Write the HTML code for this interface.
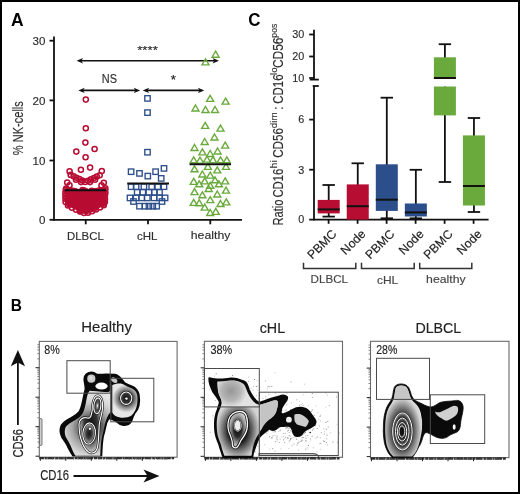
<!DOCTYPE html>
<html><head><meta charset="utf-8"><style>
html,body{margin:0;padding:0;background:#fff;}
body{width:520px;height:494px;overflow:hidden;}
svg{display:block;will-change:transform;}
text{font-family:"Liberation Sans",sans-serif;}
</style></head><body>
<svg width="520" height="494" viewBox="0 0 520 494" font-family="Liberation Sans, sans-serif">
<defs><radialGradient id="z1" gradientUnits="objectBoundingBox" cx="0.5" cy="0.5" r="0.5"><stop offset="0" stop-color="#151515"/><stop offset="0.45" stop-color="#3a3a3a"/><stop offset="0.8" stop-color="#8a8a8a"/><stop offset="1" stop-color="#d5d5d5"/></radialGradient><radialGradient id="z2" gradientUnits="objectBoundingBox" cx="0.5" cy="0.5" r="0.5"><stop offset="0" stop-color="#000"/><stop offset="0.6" stop-color="#1e1e1e"/><stop offset="0.85" stop-color="#5e5e5e"/><stop offset="1" stop-color="#c2c2c2"/></radialGradient><radialGradient id="z2h" gradientUnits="objectBoundingBox" cx="0.5" cy="0.5" r="0.5"><stop offset="0" stop-color="#111"/><stop offset="0.55" stop-color="#333"/><stop offset="0.8" stop-color="#8a8a8a"/><stop offset="1" stop-color="#d2d2d2"/></radialGradient><radialGradient id="z2c" gradientUnits="objectBoundingBox" cx="0.5" cy="0.5" r="0.5"><stop offset="0" stop-color="#111"/><stop offset="0.4" stop-color="#2a2a2a"/><stop offset="0.7" stop-color="#8a8a8a"/><stop offset="1" stop-color="#d8d8d8"/></radialGradient><radialGradient id="z4" gradientUnits="objectBoundingBox" cx="0.5" cy="0.5" r="0.5"><stop offset="0" stop-color="#1a1a1a"/><stop offset="0.6" stop-color="#2a2a2a"/><stop offset="0.85" stop-color="#555"/><stop offset="1" stop-color="#9a9a9a"/></radialGradient><radialGradient id="z2d" gradientUnits="objectBoundingBox" cx="0.5" cy="0.5" r="0.5"><stop offset="0" stop-color="#000"/><stop offset="0.62" stop-color="#141414"/><stop offset="0.86" stop-color="#4a4a4a"/><stop offset="1" stop-color="#b0b0b0"/></radialGradient><radialGradient id="z3" gradientUnits="objectBoundingBox" cx="0.5" cy="0.5" r="0.5"><stop offset="0" stop-color="#ffffff"/><stop offset="0.25" stop-color="#888"/><stop offset="0.6" stop-color="#3a3a3a"/><stop offset="1" stop-color="#b0b0b0"/></radialGradient><radialGradient id="hb" gradientUnits="userSpaceOnUse" cx="91" cy="428" r="34"><stop offset="0" stop-color="#2a2a2a"/><stop offset="0.3" stop-color="#555"/><stop offset="0.55" stop-color="#a5a5a5"/><stop offset="0.8" stop-color="#d5d5d5"/><stop offset="1" stop-color="#e6e6e6"/></radialGradient><radialGradient id="hr" gradientUnits="userSpaceOnUse" cx="126.4" cy="398.5" r="14"><stop offset="0" stop-color="#111"/><stop offset="0.42" stop-color="#3a3a3a"/><stop offset="0.72" stop-color="#9a9a9a"/><stop offset="1" stop-color="#e6e6e6"/></radialGradient><radialGradient id="cb" gradientUnits="userSpaceOnUse" cx="238" cy="430" r="22" gradientTransform="translate(238 430) scale(1 1.35) translate(-238 -430)"><stop offset="0" stop-color="#000"/><stop offset="0.45" stop-color="#222"/><stop offset="0.65" stop-color="#666"/><stop offset="0.85" stop-color="#a8a8a8"/><stop offset="1" stop-color="#d5d5d5"/></radialGradient><radialGradient id="cu" gradientUnits="userSpaceOnUse" cx="231" cy="391" r="16"><stop offset="0" stop-color="#979797"/><stop offset="0.6" stop-color="#b5b5b5"/><stop offset="1" stop-color="#e2e2e2"/></radialGradient><radialGradient id="db" gradientUnits="userSpaceOnUse" cx="402.3" cy="431" r="21" gradientTransform="translate(402.3 431) scale(1 1.75) translate(-402.3 -431)"><stop offset="0" stop-color="#111"/><stop offset="0.45" stop-color="#333"/><stop offset="0.68" stop-color="#8a8a8a"/><stop offset="0.88" stop-color="#d2d2d2"/><stop offset="1" stop-color="#e2e2e2"/></radialGradient></defs>
<rect x="0" y="0" width="520" height="494" fill="#fff"/>
<text x="11" y="25.7" font-size="17.5" fill="#000" stroke="#000" stroke-width="0.0" text-anchor="start" textLength="12.6" lengthAdjust="spacingAndGlyphs" font-weight="bold" >A</text>
<g stroke="#111" stroke-width="1.8" fill="none">
<line x1="54" y1="36.5" x2="54" y2="220.6"/>
<line x1="53.1" y1="219.8" x2="242" y2="219.8"/>
<line x1="49.5" y1="40.7" x2="54" y2="40.7"/>
<line x1="49.5" y1="100.4" x2="54" y2="100.4"/>
<line x1="49.5" y1="160.5" x2="54" y2="160.5"/>
<line x1="49.5" y1="219.8" x2="54" y2="219.8"/>
<line x1="85.75" y1="219.8" x2="85.75" y2="224.3"/>
<line x1="148" y1="219.8" x2="148" y2="224.3"/>
<line x1="210.3" y1="219.8" x2="210.3" y2="224.3"/>
</g>
<text x="45.5" y="44.800000000000004" font-size="11.6" fill="#2e2e2e" stroke="#2e2e2e" stroke-width="0.15" text-anchor="end" >30</text>
<text x="45.5" y="104.5" font-size="11.6" fill="#2e2e2e" stroke="#2e2e2e" stroke-width="0.15" text-anchor="end" >20</text>
<text x="45.5" y="164.6" font-size="11.6" fill="#2e2e2e" stroke="#2e2e2e" stroke-width="0.15" text-anchor="end" >10</text>
<text x="45.5" y="223.9" font-size="11.6" fill="#2e2e2e" stroke="#2e2e2e" stroke-width="0.15" text-anchor="end" >0</text>
<text x="85.4" y="239.5" font-size="11.5" fill="#2e2e2e" stroke="#2e2e2e" stroke-width="0.15" text-anchor="middle" textLength="36.7" lengthAdjust="spacingAndGlyphs" >DLBCL</text>
<text x="147.2" y="239.5" font-size="11.5" fill="#2e2e2e" stroke="#2e2e2e" stroke-width="0.15" text-anchor="middle" textLength="20.5" lengthAdjust="spacingAndGlyphs" >cHL</text>
<text x="210.6" y="239.3" font-size="11.5" fill="#2e2e2e" stroke="#2e2e2e" stroke-width="0.15" text-anchor="middle" textLength="39.6" lengthAdjust="spacingAndGlyphs" >healthy</text>
<text transform="translate(23.3,0) rotate(-90)" x="-155.2" y="0" font-size="14.8" fill="#2e2e2e" stroke="#2e2e2e" stroke-width="0.15" textLength="54" lengthAdjust="spacingAndGlyphs" font-family="Liberation Sans, sans-serif">% NK-cells</text>
<line x1="79.6" y1="60.8" x2="216" y2="60.8" stroke="#111" stroke-width="1.6"/>
<path d="M76.6,60.8 L83.0,58.099999999999994 L81.39999999999999,60.8 L83.0,63.5 Z" fill="#111"/>
<path d="M219,60.8 L212.6,58.099999999999994 L214.2,60.8 L212.6,63.5 Z" fill="#111"/>
<line x1="81.3" y1="90.4" x2="137.2" y2="90.4" stroke="#111" stroke-width="1.6"/>
<path d="M78.3,90.4 L84.7,87.7 L83.1,90.4 L84.7,93.10000000000001 Z" fill="#111"/>
<path d="M140.2,90.4 L133.79999999999998,87.7 L135.39999999999998,90.4 L133.79999999999998,93.10000000000001 Z" fill="#111"/>
<line x1="145.7" y1="90.4" x2="201.3" y2="90.4" stroke="#111" stroke-width="1.6"/>
<path d="M142.7,90.4 L149.1,87.7 L147.5,90.4 L149.1,93.10000000000001 Z" fill="#111"/>
<path d="M204.3,90.4 L197.9,87.7 L199.5,90.4 L197.9,93.10000000000001 Z" fill="#111"/>
<text x="137.2" y="53.8" font-size="11" fill="#222" stroke="#222" stroke-width="0.15" text-anchor="start" textLength="20.6" lengthAdjust="spacingAndGlyphs" >****</text>
<text x="101.8" y="82.9" font-size="12" fill="#2e2e2e" stroke="#2e2e2e" stroke-width="0.15" text-anchor="start" textLength="15.2" lengthAdjust="spacingAndGlyphs" >NS</text>
<text x="170.8" y="83.6" font-size="12" fill="#222" stroke="#222" stroke-width="0.15" text-anchor="start" textLength="5.2" lengthAdjust="spacingAndGlyphs" >*</text>
<path d="M64.8,188.5 C68,187 72,187 76,188.2 C80,189.2 83,190 85.7,190 C89,190 92,189.2 95.5,188.2 C99,187 103,186.6 106.2,188 L106.2,203 C104.5,205.5 101,207.3 97,209.3 C94,210.8 91.5,212.3 89,213.6 C87.3,214.6 84.5,214.6 82.8,213.6 C80,212 77.5,210.6 74.5,209.2 C71,207.6 67,205.6 65,203 Z" fill="#b80d33"/>
<g fill="none" stroke="#b80d33" stroke-width="1.5">
<circle cx="85.8" cy="99.6" r="2.55"/>
<circle cx="85.8" cy="128.3" r="2.55"/>
<circle cx="85.4" cy="142.6" r="2.55"/>
<circle cx="76.3" cy="151.6" r="2.55"/>
<circle cx="94.6" cy="149.0" r="2.55"/>
<circle cx="85.6" cy="157.3" r="2.55"/>
<circle cx="80.9" cy="169.8" r="2.55"/>
<circle cx="90.1" cy="167.6" r="2.55"/>
<circle cx="69.6" cy="171.4" r="2.55"/>
<circle cx="101.8" cy="171.1" r="2.55"/>
<circle cx="70.7" cy="174.9" r="2.55"/>
<circle cx="73.6" cy="176.3" r="2.55"/>
<circle cx="76.5" cy="177.7" r="2.55"/>
<circle cx="79.4" cy="179.1" r="2.55"/>
<circle cx="82.3" cy="180.5" r="2.55"/>
<circle cx="85.2" cy="181.9" r="2.55"/>
<circle cx="88.1" cy="180.8" r="2.55"/>
<circle cx="91.0" cy="179.4" r="2.55"/>
<circle cx="93.9" cy="178.0" r="2.55"/>
<circle cx="96.8" cy="176.6" r="2.55"/>
<circle cx="99.7" cy="175.2" r="2.55"/>
<circle cx="76.0" cy="179.8" r="2.55"/>
<circle cx="81.0" cy="182.1" r="2.55"/>
<circle cx="90.0" cy="182.1" r="2.55"/>
<circle cx="95.0" cy="179.8" r="2.55"/>
<circle cx="67.2" cy="182.6" r="2.55"/>
<circle cx="69.5" cy="185.2" r="2.55"/>
<circle cx="103.8" cy="182.8" r="2.55"/>
<circle cx="101.5" cy="185.4" r="2.55"/>
<circle cx="66.2" cy="188.5" r="2.55"/>
<circle cx="105.3" cy="188.3" r="2.55"/>
<circle cx="72.6" cy="196.8" r="2.55"/>
<circle cx="69.7" cy="203.7" r="2.55"/>
<circle cx="80.5" cy="201.3" r="2.55"/>
<circle cx="85.8" cy="191.2" r="2.55"/>
<circle cx="83.0" cy="190.8" r="2.55"/>
<circle cx="70.4" cy="191.5" r="2.55"/>
<circle cx="97.6" cy="198.9" r="2.55"/>
<circle cx="75.3" cy="192.6" r="2.55"/>
<circle cx="102.1" cy="203.2" r="2.55"/>
<circle cx="81.7" cy="202.1" r="2.55"/>
<circle cx="79.9" cy="210.5" r="2.55"/>
<circle cx="80.9" cy="208.0" r="2.55"/>
<circle cx="71.4" cy="193.0" r="2.55"/>
<circle cx="97.2" cy="196.5" r="2.55"/>
<circle cx="88.5" cy="193.8" r="2.55"/>
<circle cx="80.8" cy="203.4" r="2.55"/>
<circle cx="69.3" cy="201.5" r="2.55"/>
<circle cx="74.6" cy="191.3" r="2.55"/>
<circle cx="82.9" cy="204.3" r="2.55"/>
<circle cx="88.7" cy="196.6" r="2.55"/>
<circle cx="78.1" cy="199.5" r="2.55"/>
<circle cx="90.8" cy="206.7" r="2.55"/>
<circle cx="88.3" cy="195.1" r="2.55"/>
<circle cx="99.4" cy="201.0" r="2.55"/>
<circle cx="78.7" cy="205.3" r="2.55"/>
<circle cx="80.9" cy="210.6" r="2.55"/>
<circle cx="95.0" cy="198.8" r="2.55"/>
<circle cx="85.1" cy="193.2" r="2.55"/>
<circle cx="91.7" cy="190.8" r="2.55"/>
<circle cx="87.6" cy="206.1" r="2.55"/>
<circle cx="81.7" cy="208.4" r="2.55"/>
<circle cx="88.8" cy="204.6" r="2.55"/>
<circle cx="83.9" cy="202.2" r="2.55"/>
<circle cx="95.8" cy="207.6" r="2.55"/>
<circle cx="91.6" cy="200.0" r="2.55"/>
<circle cx="93.0" cy="191.3" r="2.55"/>
<circle cx="103.7" cy="203.6" r="2.55"/>
<circle cx="80.2" cy="207.3" r="2.55"/>
<circle cx="91.7" cy="198.1" r="2.55"/>
<circle cx="84.1" cy="190.5" r="2.55"/>
<circle cx="71.3" cy="193.5" r="2.55"/>
<circle cx="95.4" cy="191.2" r="2.55"/>
<circle cx="76.2" cy="192.7" r="2.55"/>
<circle cx="99.2" cy="198.2" r="2.55"/>
<circle cx="83.6" cy="191.7" r="2.55"/>
<circle cx="99.7" cy="201.5" r="2.55"/>
<circle cx="94.5" cy="207.2" r="2.55"/>
<circle cx="82.4" cy="195.8" r="2.55"/>
<circle cx="99.7" cy="197.5" r="2.55"/>
<circle cx="80.7" cy="210.1" r="2.55"/>
<circle cx="75.6" cy="193.7" r="2.55"/>
<circle cx="84.9" cy="194.9" r="2.55"/>
<circle cx="76.7" cy="202.4" r="2.55"/>
<circle cx="82.5" cy="190.1" r="2.55"/>
<circle cx="88.0" cy="197.8" r="2.55"/>
<circle cx="88.2" cy="210.0" r="2.55"/>
<circle cx="89.9" cy="200.8" r="2.55"/>
<circle cx="69.3" cy="204.2" r="2.55"/>
<circle cx="90.7" cy="208.9" r="2.55"/>
<circle cx="91.6" cy="208.4" r="2.55"/>
<circle cx="65.7" cy="190.0" r="2.55"/>
<circle cx="105.2" cy="190.0" r="2.55"/>
<circle cx="65.4" cy="193.0" r="2.55"/>
<circle cx="105.4" cy="193.0" r="2.55"/>
<circle cx="65.4" cy="196.0" r="2.55"/>
<circle cx="104.9" cy="196.0" r="2.55"/>
<circle cx="65.5" cy="199.0" r="2.55"/>
<circle cx="105.0" cy="199.0" r="2.55"/>
<circle cx="65.6" cy="202.0" r="2.55"/>
<circle cx="104.9" cy="202.0" r="2.55"/>
<circle cx="68.0" cy="205.5" r="2.55"/>
<circle cx="72.0" cy="207.8" r="2.55"/>
<circle cx="76.0" cy="209.8" r="2.55"/>
<circle cx="80.0" cy="211.6" r="2.55"/>
<circle cx="84.0" cy="213.0" r="2.55"/>
<circle cx="88.0" cy="212.8" r="2.55"/>
<circle cx="92.0" cy="211.2" r="2.55"/>
<circle cx="96.0" cy="209.5" r="2.55"/>
<circle cx="100.0" cy="207.5" r="2.55"/>
<circle cx="103.8" cy="205.3" r="2.55"/>
</g>
<line x1="64.5" y1="190.2" x2="106.3" y2="190.2" stroke="#111" stroke-width="2"/>
<g fill="none" stroke="#2c4f8c" stroke-width="1.35">
<rect x="144.8" y="95.7" width="5.4" height="5.4"/>
<rect x="144.8" y="109.9" width="5.4" height="5.4"/>
<rect x="144.8" y="149.5" width="5.4" height="5.4"/>
<rect x="128.4" y="169.0" width="5.4" height="5.4"/>
<rect x="136.8" y="170.7" width="5.4" height="5.4"/>
<rect x="145.1" y="173.4" width="5.4" height="5.4"/>
<rect x="152.9" y="169.0" width="5.4" height="5.4"/>
<rect x="161.3" y="165.7" width="5.4" height="5.4"/>
<rect x="158.5" y="175.7" width="5.4" height="5.4"/>
<rect x="128.4" y="184.0" width="5.4" height="5.4"/>
<rect x="133.4" y="184.0" width="5.4" height="5.4"/>
<rect x="141.2" y="184.0" width="5.4" height="5.4"/>
<rect x="149.0" y="184.0" width="5.4" height="5.4"/>
<rect x="155.1" y="184.0" width="5.4" height="5.4"/>
<rect x="161.3" y="184.0" width="5.4" height="5.4"/>
<rect x="134.5" y="189.6" width="5.4" height="5.4"/>
<rect x="140.1" y="189.6" width="5.4" height="5.4"/>
<rect x="146.2" y="189.6" width="5.4" height="5.4"/>
<rect x="151.8" y="189.6" width="5.4" height="5.4"/>
<rect x="156.8" y="189.6" width="5.4" height="5.4"/>
<rect x="127.3" y="195.2" width="5.4" height="5.4"/>
<rect x="133.4" y="195.2" width="5.4" height="5.4"/>
<rect x="139.0" y="195.2" width="5.4" height="5.4"/>
<rect x="144.6" y="195.2" width="5.4" height="5.4"/>
<rect x="151.3" y="195.2" width="5.4" height="5.4"/>
<rect x="156.8" y="195.2" width="5.4" height="5.4"/>
<rect x="162.4" y="195.2" width="5.4" height="5.4"/>
<rect x="130.8" y="198.8" width="5.4" height="5.4"/>
<rect x="159.3" y="198.8" width="5.4" height="5.4"/>
<rect x="136.8" y="203.5" width="5.4" height="5.4"/>
<rect x="142.3" y="203.5" width="5.4" height="5.4"/>
<rect x="146.2" y="203.5" width="5.4" height="5.4"/>
<rect x="150.1" y="203.5" width="5.4" height="5.4"/>
<rect x="154.0" y="203.5" width="5.4" height="5.4"/>
</g>
<line x1="127.2" y1="183.4" x2="169" y2="183.4" stroke="#111" stroke-width="2"/>
<g fill="none" stroke="#6aaa3c" stroke-width="1.4" stroke-linejoin="miter">
<path d="M215.6,51.2 L219.1,57.2 L212.1,57.2 Z"/>
<path d="M205.5,58.9 L209.0,64.9 L202.0,64.9 Z"/>
<path d="M210.1,95.4 L213.6,101.4 L206.6,101.4 Z"/>
<path d="M225.6,98.1 L229.1,104.1 L222.1,104.1 Z"/>
<path d="M195.5,105.0 L199.0,111.0 L192.0,111.0 Z"/>
<path d="M205.5,106.5 L209.0,112.5 L202.0,112.5 Z"/>
<path d="M215.0,106.5 L218.5,112.5 L211.5,112.5 Z"/>
<path d="M205.2,122.4 L208.7,128.4 L201.7,128.4 Z"/>
<path d="M220.5,125.1 L224.0,131.1 L217.0,131.1 Z"/>
<path d="M214.5,134.0 L218.0,140.0 L211.0,140.0 Z"/>
<path d="M204.7,138.5 L208.2,144.5 L201.2,144.5 Z"/>
<path d="M225.2,142.1 L228.7,148.1 L221.7,148.1 Z"/>
<path d="M194.5,144.5 L198.0,150.5 L191.0,150.5 Z"/>
<path d="M202.4,148.9 L205.9,154.9 L198.9,154.9 Z"/>
<path d="M210.2,150.5 L213.7,156.5 L206.7,156.5 Z"/>
<path d="M217.6,148.0 L221.1,154.0 L214.1,154.0 Z"/>
<path d="M193.7,156.8 L197.2,162.8 L190.2,162.8 Z"/>
<path d="M200.0,157.1 L203.5,163.1 L196.5,163.1 Z"/>
<path d="M207.0,156.1 L210.5,162.1 L203.5,162.1 Z"/>
<path d="M213.0,156.6 L216.5,162.6 L209.5,162.6 Z"/>
<path d="M220.5,156.8 L224.0,162.8 L217.0,162.8 Z"/>
<path d="M226.8,156.8 L230.3,162.8 L223.3,162.8 Z"/>
<path d="M194.5,165.8 L198.0,171.8 L191.0,171.8 Z"/>
<path d="M207.9,163.4 L211.4,169.4 L204.4,169.4 Z"/>
<path d="M217.3,166.9 L220.8,172.9 L213.8,172.9 Z"/>
<path d="M226.0,163.4 L229.5,169.4 L222.5,169.4 Z"/>
<path d="M202.4,171.0 L205.9,177.0 L198.9,177.0 Z"/>
<path d="M210.2,172.1 L213.7,178.1 L206.7,178.1 Z"/>
<path d="M193.7,178.4 L197.2,184.4 L190.2,184.4 Z"/>
<path d="M199.2,180.8 L202.7,186.8 L195.7,186.8 Z"/>
<path d="M204.7,177.9 L208.2,183.9 L201.2,183.9 Z"/>
<path d="M210.2,182.3 L213.7,188.3 L206.7,188.3 Z"/>
<path d="M215.0,176.8 L218.5,182.8 L211.5,182.8 Z"/>
<path d="M218.9,180.8 L222.4,186.8 L215.4,186.8 Z"/>
<path d="M225.2,177.9 L228.7,183.9 L221.7,183.9 Z"/>
<path d="M194.5,188.6 L198.0,194.6 L191.0,194.6 Z"/>
<path d="M202.4,191.8 L205.9,197.8 L198.9,197.8 Z"/>
<path d="M208.7,185.5 L212.2,191.5 L205.2,191.5 Z"/>
<path d="M217.3,191.0 L220.8,197.0 L213.8,197.0 Z"/>
<path d="M226.0,187.1 L229.5,193.1 L222.5,193.1 Z"/>
<path d="M193.7,199.4 L197.2,205.4 L190.2,205.4 Z"/>
<path d="M199.2,199.7 L202.7,205.7 L195.7,205.7 Z"/>
<path d="M204.7,204.1 L208.2,210.1 L201.2,210.1 Z"/>
<path d="M210.2,196.6 L213.7,202.6 L206.7,202.6 Z"/>
<path d="M220.5,200.5 L224.0,206.5 L217.0,206.5 Z"/>
<path d="M226.3,198.9 L229.8,204.9 L222.8,204.9 Z"/>
<path d="M210.2,209.5 L213.7,215.5 L206.7,215.5 Z"/>
<path d="M215.8,208.4 L219.3,214.4 L212.3,214.4 Z"/>
</g>
<line x1="189.6" y1="164.2" x2="231" y2="164.2" stroke="#111" stroke-width="2"/>
<text x="248.3" y="25.7" font-size="17.5" fill="#000" stroke="#000" stroke-width="0.0" text-anchor="start" textLength="12.2" lengthAdjust="spacingAndGlyphs" font-weight="bold" >C</text>
<g stroke="#111" stroke-width="1.8" fill="none">
<line x1="314" y1="29.7" x2="314" y2="79.6"/>
<line x1="309.8" y1="79.6" x2="318.8" y2="79.6"/>
<line x1="312.7" y1="86" x2="318.8" y2="86"/>
<line x1="314" y1="86" x2="314" y2="220.4"/>
<line x1="309.2" y1="34.5" x2="314" y2="34.5"/>
<line x1="309.2" y1="56.5" x2="314" y2="56.5"/>
<line x1="309.2" y1="78.0" x2="314" y2="78.0"/>
<line x1="309.2" y1="119.6" x2="314" y2="119.6"/>
<line x1="309.2" y1="169.7" x2="314" y2="169.7"/>
<line x1="309.2" y1="219.6" x2="488.6" y2="219.6"/>
<line x1="328.6" y1="219.6" x2="328.6" y2="223.8"/>
<line x1="357.6" y1="219.6" x2="357.6" y2="223.8"/>
<line x1="386.6" y1="219.6" x2="386.6" y2="223.8"/>
<line x1="415.6" y1="219.6" x2="415.6" y2="223.8"/>
<line x1="444.6" y1="219.6" x2="444.6" y2="223.8"/>
<line x1="473.6" y1="219.6" x2="473.6" y2="223.8"/>
</g>
<text x="304.3" y="38.3" font-size="10.8" fill="#2e2e2e" stroke="#2e2e2e" stroke-width="0.15" text-anchor="end" >30</text>
<text x="304.3" y="60.3" font-size="10.8" fill="#2e2e2e" stroke="#2e2e2e" stroke-width="0.15" text-anchor="end" >20</text>
<text x="304.3" y="81.8" font-size="10.8" fill="#2e2e2e" stroke="#2e2e2e" stroke-width="0.15" text-anchor="end" >10</text>
<text x="304.3" y="123.39999999999999" font-size="10.8" fill="#2e2e2e" stroke="#2e2e2e" stroke-width="0.15" text-anchor="end" >6</text>
<text x="304.3" y="173.5" font-size="10.8" fill="#2e2e2e" stroke="#2e2e2e" stroke-width="0.15" text-anchor="end" >3</text>
<text x="304.3" y="223.4" font-size="10.8" fill="#2e2e2e" stroke="#2e2e2e" stroke-width="0.15" text-anchor="end" >0</text>
<g stroke="#111" stroke-width="1.8">
<line x1="328.7" y1="185" x2="328.7" y2="216.6"/>
<line x1="322.5" y1="185" x2="334.9" y2="185"/>
<line x1="322.5" y1="216.6" x2="334.9" y2="216.6"/>
</g>
<rect x="317.7" y="199.9" width="22" height="13.5" fill="#b80d33"/>
<line x1="317.7" y1="209.4" x2="339.7" y2="209.4" stroke="#111" stroke-width="2"/>
<g stroke="#111" stroke-width="1.8">
<line x1="357.75" y1="163.3" x2="357.75" y2="219.6"/>
<line x1="351.55" y1="163.3" x2="363.95" y2="163.3"/>
</g>
<rect x="346.75" y="184.4" width="22" height="35.19999999999999" fill="#b80d33"/>
<line x1="346.75" y1="206.2" x2="368.75" y2="206.2" stroke="#111" stroke-width="2"/>
<g stroke="#111" stroke-width="1.8">
<line x1="386.8" y1="97.7" x2="386.8" y2="218.3"/>
<line x1="380.6" y1="97.7" x2="393.0" y2="97.7"/>
<line x1="380.6" y1="218.3" x2="393.0" y2="218.3"/>
</g>
<rect x="375.8" y="164.3" width="22" height="46.599999999999994" fill="#2c4f8c"/>
<line x1="375.8" y1="199.7" x2="397.8" y2="199.7" stroke="#111" stroke-width="2"/>
<g stroke="#111" stroke-width="1.8">
<line x1="415.85" y1="169.8" x2="415.85" y2="218.3"/>
<line x1="409.65000000000003" y1="169.8" x2="422.05" y2="169.8"/>
<line x1="409.65000000000003" y1="218.3" x2="422.05" y2="218.3"/>
</g>
<rect x="404.85" y="203.5" width="22" height="13.0" fill="#2c4f8c"/>
<line x1="404.85" y1="212.4" x2="426.85" y2="212.4" stroke="#111" stroke-width="2"/>
<g stroke="#111" stroke-width="1.8">
<line x1="444.9" y1="44.2" x2="444.9" y2="182"/>
<line x1="438.7" y1="44.2" x2="451.09999999999997" y2="44.2"/>
<line x1="438.7" y1="182" x2="451.09999999999997" y2="182"/>
</g>
<rect x="433.9" y="57.3" width="22" height="21.7" fill="#6aaa3c"/>
<rect x="433.9" y="86.3" width="22" height="29.1" fill="#6aaa3c"/>
<rect x="433.9" y="79" width="22" height="7.3" fill="#fff"/>
<line x1="433.9" y1="78" x2="455.9" y2="78" stroke="#111" stroke-width="2"/>
<g stroke="#111" stroke-width="1.8">
<line x1="473.95" y1="118" x2="473.95" y2="212"/>
<line x1="467.75" y1="118" x2="480.15" y2="118"/>
<line x1="467.75" y1="212" x2="480.15" y2="212"/>
</g>
<rect x="462.95" y="135.4" width="22" height="70.1" fill="#6aaa3c"/>
<line x1="462.95" y1="186" x2="484.95" y2="186" stroke="#111" stroke-width="2"/>
<g transform="translate(282.8,0) rotate(-90)">
<text x="-225.6" y="0" font-size="14.8" fill="#2e2e2e" stroke="#2e2e2e" stroke-width="0.12" textLength="26.2" lengthAdjust="spacingAndGlyphs" font-family="Liberation Sans, sans-serif">Ratio</text>
<text x="-197.6" y="0" font-size="14.8" fill="#2e2e2e" stroke="#2e2e2e" stroke-width="0.12" textLength="29.0" lengthAdjust="spacingAndGlyphs" font-family="Liberation Sans, sans-serif">CD16</text>
<text x="-168.4" y="-5.6" font-size="9.6" fill="#2e2e2e" stroke="#2e2e2e" stroke-width="0.1" textLength="8.1" lengthAdjust="spacingAndGlyphs" font-family="Liberation Sans, sans-serif">hi</text>
<text x="-157.8" y="0" font-size="14.8" fill="#2e2e2e" stroke="#2e2e2e" stroke-width="0.12" textLength="29.7" lengthAdjust="spacingAndGlyphs" font-family="Liberation Sans, sans-serif">CD56</text>
<text x="-128.2" y="-5.6" font-size="9.6" fill="#2e2e2e" stroke="#2e2e2e" stroke-width="0.1" textLength="15.8" lengthAdjust="spacingAndGlyphs" font-family="Liberation Sans, sans-serif">dim</text>
<text x="-109.9" y="0" font-size="14.8" fill="#2e2e2e" stroke="#2e2e2e" stroke-width="0.12" textLength="3.7" lengthAdjust="spacingAndGlyphs" font-family="Liberation Sans, sans-serif">:</text>
<text x="-103.7" y="0" font-size="14.8" fill="#2e2e2e" stroke="#2e2e2e" stroke-width="0.12" textLength="29.3" lengthAdjust="spacingAndGlyphs" font-family="Liberation Sans, sans-serif">CD16</text>
<text x="-75.0" y="-5.6" font-size="9.6" fill="#2e2e2e" stroke="#2e2e2e" stroke-width="0.1" textLength="7.6" lengthAdjust="spacingAndGlyphs" font-family="Liberation Sans, sans-serif">lo</text>
<text x="-68.1" y="0" font-size="14.8" fill="#2e2e2e" stroke="#2e2e2e" stroke-width="0.12" textLength="30.5" lengthAdjust="spacingAndGlyphs" font-family="Liberation Sans, sans-serif">CD56</text>
<text x="-37.7" y="-5.6" font-size="9.6" fill="#2e2e2e" stroke="#2e2e2e" stroke-width="0.1" textLength="14.0" lengthAdjust="spacingAndGlyphs" font-family="Liberation Sans, sans-serif">pos</text>
</g>
<text transform="translate(337.3,234.6) rotate(-45)" font-size="12.3" fill="#222" stroke="#222" stroke-width="0.15" text-anchor="end" font-family="Liberation Sans, sans-serif">PBMC</text>
<text transform="translate(366.4,234.6) rotate(-45)" font-size="12.3" fill="#222" stroke="#222" stroke-width="0.15" text-anchor="end" font-family="Liberation Sans, sans-serif">Node</text>
<text transform="translate(395.4,234.6) rotate(-45)" font-size="12.3" fill="#222" stroke="#222" stroke-width="0.15" text-anchor="end" font-family="Liberation Sans, sans-serif">PBMC</text>
<text transform="translate(424.5,234.6) rotate(-45)" font-size="12.3" fill="#222" stroke="#222" stroke-width="0.15" text-anchor="end" font-family="Liberation Sans, sans-serif">Node</text>
<text transform="translate(453.5,234.6) rotate(-45)" font-size="12.3" fill="#222" stroke="#222" stroke-width="0.15" text-anchor="end" font-family="Liberation Sans, sans-serif">PBMC</text>
<text transform="translate(482.6,234.6) rotate(-45)" font-size="12.3" fill="#222" stroke="#222" stroke-width="0.15" text-anchor="end" font-family="Liberation Sans, sans-serif">Node</text>
<g stroke="#333" stroke-width="1.5" fill="none">
<path d="M303.5,262.8 L303.5,268.4 L355.8,268.4 L355.8,262.8"/>
<path d="M361.5,262.8 L361.5,268.4 L414.2,268.4 L414.2,262.8"/>
<path d="M419.7,262.8 L419.7,268.4 L471.8,268.4 L471.8,262.8"/>
</g>
<text x="329.3" y="283.3" font-size="11.2" fill="#444" stroke="#444" stroke-width="0.15" text-anchor="middle" textLength="37.4" lengthAdjust="spacingAndGlyphs" >DLBCL</text>
<text x="387.6" y="283.8" font-size="11.2" fill="#444" stroke="#444" stroke-width="0.15" text-anchor="middle" textLength="21.2" lengthAdjust="spacingAndGlyphs" >cHL</text>
<text x="445.9" y="283.4" font-size="11.2" fill="#444" stroke="#444" stroke-width="0.15" text-anchor="middle" textLength="39.6" lengthAdjust="spacingAndGlyphs" >healthy</text>
<text x="10.8" y="310.8" font-size="15.8" fill="#000" stroke="#000" stroke-width="0.0" text-anchor="start" textLength="11.2" lengthAdjust="spacingAndGlyphs" font-weight="bold" >B</text>
<text x="106.6" y="332.2" font-size="14.5" fill="#222" stroke="#222" stroke-width="0.15" text-anchor="middle" textLength="50.5" lengthAdjust="spacingAndGlyphs" >Healthy</text>
<text x="272.4" y="332.6" font-size="14.8" fill="#222" stroke="#222" stroke-width="0.15" text-anchor="middle" textLength="25.4" lengthAdjust="spacingAndGlyphs" >cHL</text>
<text x="438.3" y="332.7" font-size="14.8" fill="#222" stroke="#222" stroke-width="0.15" text-anchor="middle" textLength="45.8" lengthAdjust="spacingAndGlyphs" >DLBCL</text>
<line x1="17.9" y1="362" x2="17.9" y2="425" stroke="#111" stroke-width="1.8"/>
<path d="M17.9,350 L25,366.3 L17.9,362.5 L10.8,366.3 Z" fill="#111"/>
<text transform="translate(23.2,0) rotate(-90)" x="-457.6" y="0" font-size="14.8" fill="#222" stroke="#222" stroke-width="0.2" textLength="28.6" lengthAdjust="spacingAndGlyphs" font-family="Liberation Sans, sans-serif">CD56</text>
<line x1="73.5" y1="476" x2="148" y2="476" stroke="#111" stroke-width="1.8"/>
<path d="M159.5,476 L143.5,469.5 L147.5,476 L143.5,482.5 Z" fill="#111"/>
<text x="40.2" y="480.2" font-size="14.8" fill="#222" stroke="#222" stroke-width="0.15" text-anchor="start" textLength="28.8" lengthAdjust="spacingAndGlyphs" >CD16</text>
<rect x="39.3" y="341.4" width="137.8" height="115.80000000000001" fill="none" stroke="#6a6a6a" stroke-width="1.1"/>
<line x1="35.5" y1="456.2" x2="39.3" y2="456.2" stroke="#222" stroke-width="1"/>
<line x1="37.3" y1="447.3" x2="39.3" y2="447.3" stroke="#555" stroke-width="0.7"/>
<line x1="37.3" y1="442.1" x2="39.3" y2="442.1" stroke="#555" stroke-width="0.7"/>
<line x1="37.3" y1="438.4" x2="39.3" y2="438.4" stroke="#555" stroke-width="0.7"/>
<line x1="37.3" y1="435.6" x2="39.3" y2="435.6" stroke="#555" stroke-width="0.7"/>
<line x1="37.3" y1="433.2" x2="39.3" y2="433.2" stroke="#555" stroke-width="0.7"/>
<line x1="37.3" y1="431.3" x2="39.3" y2="431.3" stroke="#555" stroke-width="0.7"/>
<line x1="37.3" y1="429.6" x2="39.3" y2="429.6" stroke="#555" stroke-width="0.7"/>
<line x1="37.3" y1="428.0" x2="39.3" y2="428.0" stroke="#555" stroke-width="0.7"/>
<line x1="35.5" y1="426.7" x2="39.3" y2="426.7" stroke="#222" stroke-width="1"/>
<line x1="37.3" y1="417.8" x2="39.3" y2="417.8" stroke="#555" stroke-width="0.7"/>
<line x1="37.3" y1="412.6" x2="39.3" y2="412.6" stroke="#555" stroke-width="0.7"/>
<line x1="37.3" y1="408.9" x2="39.3" y2="408.9" stroke="#555" stroke-width="0.7"/>
<line x1="37.3" y1="406.1" x2="39.3" y2="406.1" stroke="#555" stroke-width="0.7"/>
<line x1="37.3" y1="403.7" x2="39.3" y2="403.7" stroke="#555" stroke-width="0.7"/>
<line x1="37.3" y1="401.8" x2="39.3" y2="401.8" stroke="#555" stroke-width="0.7"/>
<line x1="37.3" y1="400.1" x2="39.3" y2="400.1" stroke="#555" stroke-width="0.7"/>
<line x1="37.3" y1="398.5" x2="39.3" y2="398.5" stroke="#555" stroke-width="0.7"/>
<line x1="35.5" y1="397.2" x2="39.3" y2="397.2" stroke="#222" stroke-width="1"/>
<line x1="37.3" y1="388.3" x2="39.3" y2="388.3" stroke="#555" stroke-width="0.7"/>
<line x1="37.3" y1="383.1" x2="39.3" y2="383.1" stroke="#555" stroke-width="0.7"/>
<line x1="37.3" y1="379.4" x2="39.3" y2="379.4" stroke="#555" stroke-width="0.7"/>
<line x1="37.3" y1="376.6" x2="39.3" y2="376.6" stroke="#555" stroke-width="0.7"/>
<line x1="37.3" y1="374.2" x2="39.3" y2="374.2" stroke="#555" stroke-width="0.7"/>
<line x1="37.3" y1="372.3" x2="39.3" y2="372.3" stroke="#555" stroke-width="0.7"/>
<line x1="37.3" y1="370.6" x2="39.3" y2="370.6" stroke="#555" stroke-width="0.7"/>
<line x1="37.3" y1="369.0" x2="39.3" y2="369.0" stroke="#555" stroke-width="0.7"/>
<line x1="35.5" y1="367.7" x2="39.3" y2="367.7" stroke="#222" stroke-width="1"/>
<line x1="37.3" y1="358.8" x2="39.3" y2="358.8" stroke="#555" stroke-width="0.7"/>
<line x1="37.3" y1="353.6" x2="39.3" y2="353.6" stroke="#555" stroke-width="0.7"/>
<line x1="37.3" y1="349.9" x2="39.3" y2="349.9" stroke="#555" stroke-width="0.7"/>
<line x1="37.3" y1="347.1" x2="39.3" y2="347.1" stroke="#555" stroke-width="0.7"/>
<line x1="37.3" y1="344.7" x2="39.3" y2="344.7" stroke="#555" stroke-width="0.7"/>
<path d="M39.3,458.09999999999997 L174.1,458.09999999999997" stroke="#303030" stroke-width="2.4" stroke-dasharray="5 0.6 2 0.5 7 0.8 3 0.5"/>
<line x1="40.3" y1="457.2" x2="40.3" y2="460.8" stroke="#222" stroke-width="1"/>
<line x1="48.0" y1="457.2" x2="48.0" y2="459.59999999999997" stroke="#555" stroke-width="0.7"/>
<line x1="52.5" y1="457.2" x2="52.5" y2="459.59999999999997" stroke="#555" stroke-width="0.7"/>
<line x1="55.7" y1="457.2" x2="55.7" y2="459.59999999999997" stroke="#555" stroke-width="0.7"/>
<line x1="58.1" y1="457.2" x2="58.1" y2="459.59999999999997" stroke="#555" stroke-width="0.7"/>
<line x1="60.1" y1="457.2" x2="60.1" y2="459.59999999999997" stroke="#555" stroke-width="0.7"/>
<line x1="61.9" y1="457.2" x2="61.9" y2="459.59999999999997" stroke="#555" stroke-width="0.7"/>
<line x1="63.3" y1="457.2" x2="63.3" y2="459.59999999999997" stroke="#555" stroke-width="0.7"/>
<line x1="64.6" y1="457.2" x2="64.6" y2="459.59999999999997" stroke="#555" stroke-width="0.7"/>
<line x1="65.8" y1="457.2" x2="65.8" y2="460.8" stroke="#222" stroke-width="1"/>
<line x1="73.5" y1="457.2" x2="73.5" y2="459.59999999999997" stroke="#555" stroke-width="0.7"/>
<line x1="78.0" y1="457.2" x2="78.0" y2="459.59999999999997" stroke="#555" stroke-width="0.7"/>
<line x1="81.2" y1="457.2" x2="81.2" y2="459.59999999999997" stroke="#555" stroke-width="0.7"/>
<line x1="83.6" y1="457.2" x2="83.6" y2="459.59999999999997" stroke="#555" stroke-width="0.7"/>
<line x1="85.6" y1="457.2" x2="85.6" y2="459.59999999999997" stroke="#555" stroke-width="0.7"/>
<line x1="87.4" y1="457.2" x2="87.4" y2="459.59999999999997" stroke="#555" stroke-width="0.7"/>
<line x1="88.8" y1="457.2" x2="88.8" y2="459.59999999999997" stroke="#555" stroke-width="0.7"/>
<line x1="90.1" y1="457.2" x2="90.1" y2="459.59999999999997" stroke="#555" stroke-width="0.7"/>
<line x1="91.3" y1="457.2" x2="91.3" y2="460.8" stroke="#222" stroke-width="1"/>
<line x1="99.0" y1="457.2" x2="99.0" y2="459.59999999999997" stroke="#555" stroke-width="0.7"/>
<line x1="103.5" y1="457.2" x2="103.5" y2="459.59999999999997" stroke="#555" stroke-width="0.7"/>
<line x1="106.7" y1="457.2" x2="106.7" y2="459.59999999999997" stroke="#555" stroke-width="0.7"/>
<line x1="109.1" y1="457.2" x2="109.1" y2="459.59999999999997" stroke="#555" stroke-width="0.7"/>
<line x1="111.1" y1="457.2" x2="111.1" y2="459.59999999999997" stroke="#555" stroke-width="0.7"/>
<line x1="112.9" y1="457.2" x2="112.9" y2="459.59999999999997" stroke="#555" stroke-width="0.7"/>
<line x1="114.3" y1="457.2" x2="114.3" y2="459.59999999999997" stroke="#555" stroke-width="0.7"/>
<line x1="115.6" y1="457.2" x2="115.6" y2="459.59999999999997" stroke="#555" stroke-width="0.7"/>
<line x1="116.8" y1="457.2" x2="116.8" y2="460.8" stroke="#222" stroke-width="1"/>
<line x1="124.5" y1="457.2" x2="124.5" y2="459.59999999999997" stroke="#555" stroke-width="0.7"/>
<line x1="129.0" y1="457.2" x2="129.0" y2="459.59999999999997" stroke="#555" stroke-width="0.7"/>
<line x1="132.2" y1="457.2" x2="132.2" y2="459.59999999999997" stroke="#555" stroke-width="0.7"/>
<line x1="134.6" y1="457.2" x2="134.6" y2="459.59999999999997" stroke="#555" stroke-width="0.7"/>
<line x1="136.6" y1="457.2" x2="136.6" y2="459.59999999999997" stroke="#555" stroke-width="0.7"/>
<line x1="138.4" y1="457.2" x2="138.4" y2="459.59999999999997" stroke="#555" stroke-width="0.7"/>
<line x1="139.8" y1="457.2" x2="139.8" y2="459.59999999999997" stroke="#555" stroke-width="0.7"/>
<line x1="141.1" y1="457.2" x2="141.1" y2="459.59999999999997" stroke="#555" stroke-width="0.7"/>
<line x1="142.3" y1="457.2" x2="142.3" y2="460.8" stroke="#222" stroke-width="1"/>
<line x1="150.0" y1="457.2" x2="150.0" y2="459.59999999999997" stroke="#555" stroke-width="0.7"/>
<line x1="154.5" y1="457.2" x2="154.5" y2="459.59999999999997" stroke="#555" stroke-width="0.7"/>
<line x1="157.7" y1="457.2" x2="157.7" y2="459.59999999999997" stroke="#555" stroke-width="0.7"/>
<line x1="160.1" y1="457.2" x2="160.1" y2="459.59999999999997" stroke="#555" stroke-width="0.7"/>
<line x1="162.1" y1="457.2" x2="162.1" y2="459.59999999999997" stroke="#555" stroke-width="0.7"/>
<line x1="163.9" y1="457.2" x2="163.9" y2="459.59999999999997" stroke="#555" stroke-width="0.7"/>
<line x1="165.3" y1="457.2" x2="165.3" y2="459.59999999999997" stroke="#555" stroke-width="0.7"/>
<line x1="166.6" y1="457.2" x2="166.6" y2="459.59999999999997" stroke="#555" stroke-width="0.7"/>
<rect x="204.4" y="341.3" width="138.1" height="116.0" fill="none" stroke="#6a6a6a" stroke-width="1.1"/>
<line x1="200.6" y1="456.3" x2="204.4" y2="456.3" stroke="#222" stroke-width="1"/>
<line x1="202.4" y1="447.4" x2="204.4" y2="447.4" stroke="#555" stroke-width="0.7"/>
<line x1="202.4" y1="442.2" x2="204.4" y2="442.2" stroke="#555" stroke-width="0.7"/>
<line x1="202.4" y1="438.5" x2="204.4" y2="438.5" stroke="#555" stroke-width="0.7"/>
<line x1="202.4" y1="435.7" x2="204.4" y2="435.7" stroke="#555" stroke-width="0.7"/>
<line x1="202.4" y1="433.3" x2="204.4" y2="433.3" stroke="#555" stroke-width="0.7"/>
<line x1="202.4" y1="431.4" x2="204.4" y2="431.4" stroke="#555" stroke-width="0.7"/>
<line x1="202.4" y1="429.7" x2="204.4" y2="429.7" stroke="#555" stroke-width="0.7"/>
<line x1="202.4" y1="428.1" x2="204.4" y2="428.1" stroke="#555" stroke-width="0.7"/>
<line x1="200.6" y1="426.8" x2="204.4" y2="426.8" stroke="#222" stroke-width="1"/>
<line x1="202.4" y1="417.9" x2="204.4" y2="417.9" stroke="#555" stroke-width="0.7"/>
<line x1="202.4" y1="412.7" x2="204.4" y2="412.7" stroke="#555" stroke-width="0.7"/>
<line x1="202.4" y1="409.0" x2="204.4" y2="409.0" stroke="#555" stroke-width="0.7"/>
<line x1="202.4" y1="406.2" x2="204.4" y2="406.2" stroke="#555" stroke-width="0.7"/>
<line x1="202.4" y1="403.8" x2="204.4" y2="403.8" stroke="#555" stroke-width="0.7"/>
<line x1="202.4" y1="401.9" x2="204.4" y2="401.9" stroke="#555" stroke-width="0.7"/>
<line x1="202.4" y1="400.2" x2="204.4" y2="400.2" stroke="#555" stroke-width="0.7"/>
<line x1="202.4" y1="398.6" x2="204.4" y2="398.6" stroke="#555" stroke-width="0.7"/>
<line x1="200.6" y1="397.3" x2="204.4" y2="397.3" stroke="#222" stroke-width="1"/>
<line x1="202.4" y1="388.4" x2="204.4" y2="388.4" stroke="#555" stroke-width="0.7"/>
<line x1="202.4" y1="383.2" x2="204.4" y2="383.2" stroke="#555" stroke-width="0.7"/>
<line x1="202.4" y1="379.5" x2="204.4" y2="379.5" stroke="#555" stroke-width="0.7"/>
<line x1="202.4" y1="376.7" x2="204.4" y2="376.7" stroke="#555" stroke-width="0.7"/>
<line x1="202.4" y1="374.3" x2="204.4" y2="374.3" stroke="#555" stroke-width="0.7"/>
<line x1="202.4" y1="372.4" x2="204.4" y2="372.4" stroke="#555" stroke-width="0.7"/>
<line x1="202.4" y1="370.7" x2="204.4" y2="370.7" stroke="#555" stroke-width="0.7"/>
<line x1="202.4" y1="369.1" x2="204.4" y2="369.1" stroke="#555" stroke-width="0.7"/>
<line x1="200.6" y1="367.8" x2="204.4" y2="367.8" stroke="#222" stroke-width="1"/>
<line x1="202.4" y1="358.9" x2="204.4" y2="358.9" stroke="#555" stroke-width="0.7"/>
<line x1="202.4" y1="353.7" x2="204.4" y2="353.7" stroke="#555" stroke-width="0.7"/>
<line x1="202.4" y1="350.0" x2="204.4" y2="350.0" stroke="#555" stroke-width="0.7"/>
<line x1="202.4" y1="347.2" x2="204.4" y2="347.2" stroke="#555" stroke-width="0.7"/>
<line x1="202.4" y1="344.8" x2="204.4" y2="344.8" stroke="#555" stroke-width="0.7"/>
<path d="M204.4,458.2 L339.5,458.2" stroke="#303030" stroke-width="2.4" stroke-dasharray="5 0.6 2 0.5 7 0.8 3 0.5"/>
<line x1="205.4" y1="457.3" x2="205.4" y2="460.90000000000003" stroke="#222" stroke-width="1"/>
<line x1="213.1" y1="457.3" x2="213.1" y2="459.7" stroke="#555" stroke-width="0.7"/>
<line x1="217.6" y1="457.3" x2="217.6" y2="459.7" stroke="#555" stroke-width="0.7"/>
<line x1="220.8" y1="457.3" x2="220.8" y2="459.7" stroke="#555" stroke-width="0.7"/>
<line x1="223.2" y1="457.3" x2="223.2" y2="459.7" stroke="#555" stroke-width="0.7"/>
<line x1="225.2" y1="457.3" x2="225.2" y2="459.7" stroke="#555" stroke-width="0.7"/>
<line x1="227.0" y1="457.3" x2="227.0" y2="459.7" stroke="#555" stroke-width="0.7"/>
<line x1="228.4" y1="457.3" x2="228.4" y2="459.7" stroke="#555" stroke-width="0.7"/>
<line x1="229.7" y1="457.3" x2="229.7" y2="459.7" stroke="#555" stroke-width="0.7"/>
<line x1="230.9" y1="457.3" x2="230.9" y2="460.90000000000003" stroke="#222" stroke-width="1"/>
<line x1="238.6" y1="457.3" x2="238.6" y2="459.7" stroke="#555" stroke-width="0.7"/>
<line x1="243.1" y1="457.3" x2="243.1" y2="459.7" stroke="#555" stroke-width="0.7"/>
<line x1="246.3" y1="457.3" x2="246.3" y2="459.7" stroke="#555" stroke-width="0.7"/>
<line x1="248.7" y1="457.3" x2="248.7" y2="459.7" stroke="#555" stroke-width="0.7"/>
<line x1="250.7" y1="457.3" x2="250.7" y2="459.7" stroke="#555" stroke-width="0.7"/>
<line x1="252.5" y1="457.3" x2="252.5" y2="459.7" stroke="#555" stroke-width="0.7"/>
<line x1="253.9" y1="457.3" x2="253.9" y2="459.7" stroke="#555" stroke-width="0.7"/>
<line x1="255.2" y1="457.3" x2="255.2" y2="459.7" stroke="#555" stroke-width="0.7"/>
<line x1="256.4" y1="457.3" x2="256.4" y2="460.90000000000003" stroke="#222" stroke-width="1"/>
<line x1="264.1" y1="457.3" x2="264.1" y2="459.7" stroke="#555" stroke-width="0.7"/>
<line x1="268.6" y1="457.3" x2="268.6" y2="459.7" stroke="#555" stroke-width="0.7"/>
<line x1="271.8" y1="457.3" x2="271.8" y2="459.7" stroke="#555" stroke-width="0.7"/>
<line x1="274.2" y1="457.3" x2="274.2" y2="459.7" stroke="#555" stroke-width="0.7"/>
<line x1="276.2" y1="457.3" x2="276.2" y2="459.7" stroke="#555" stroke-width="0.7"/>
<line x1="278.0" y1="457.3" x2="278.0" y2="459.7" stroke="#555" stroke-width="0.7"/>
<line x1="279.4" y1="457.3" x2="279.4" y2="459.7" stroke="#555" stroke-width="0.7"/>
<line x1="280.7" y1="457.3" x2="280.7" y2="459.7" stroke="#555" stroke-width="0.7"/>
<line x1="281.9" y1="457.3" x2="281.9" y2="460.90000000000003" stroke="#222" stroke-width="1"/>
<line x1="289.6" y1="457.3" x2="289.6" y2="459.7" stroke="#555" stroke-width="0.7"/>
<line x1="294.1" y1="457.3" x2="294.1" y2="459.7" stroke="#555" stroke-width="0.7"/>
<line x1="297.3" y1="457.3" x2="297.3" y2="459.7" stroke="#555" stroke-width="0.7"/>
<line x1="299.7" y1="457.3" x2="299.7" y2="459.7" stroke="#555" stroke-width="0.7"/>
<line x1="301.7" y1="457.3" x2="301.7" y2="459.7" stroke="#555" stroke-width="0.7"/>
<line x1="303.5" y1="457.3" x2="303.5" y2="459.7" stroke="#555" stroke-width="0.7"/>
<line x1="304.9" y1="457.3" x2="304.9" y2="459.7" stroke="#555" stroke-width="0.7"/>
<line x1="306.2" y1="457.3" x2="306.2" y2="459.7" stroke="#555" stroke-width="0.7"/>
<line x1="307.4" y1="457.3" x2="307.4" y2="460.90000000000003" stroke="#222" stroke-width="1"/>
<line x1="315.1" y1="457.3" x2="315.1" y2="459.7" stroke="#555" stroke-width="0.7"/>
<line x1="319.6" y1="457.3" x2="319.6" y2="459.7" stroke="#555" stroke-width="0.7"/>
<line x1="322.8" y1="457.3" x2="322.8" y2="459.7" stroke="#555" stroke-width="0.7"/>
<line x1="325.2" y1="457.3" x2="325.2" y2="459.7" stroke="#555" stroke-width="0.7"/>
<line x1="327.2" y1="457.3" x2="327.2" y2="459.7" stroke="#555" stroke-width="0.7"/>
<line x1="329.0" y1="457.3" x2="329.0" y2="459.7" stroke="#555" stroke-width="0.7"/>
<line x1="330.4" y1="457.3" x2="330.4" y2="459.7" stroke="#555" stroke-width="0.7"/>
<line x1="331.7" y1="457.3" x2="331.7" y2="459.7" stroke="#555" stroke-width="0.7"/>
<rect x="370.5" y="341.3" width="138.5" height="116.30000000000001" fill="none" stroke="#6a6a6a" stroke-width="1.1"/>
<line x1="366.7" y1="456.6" x2="370.5" y2="456.6" stroke="#222" stroke-width="1"/>
<line x1="368.5" y1="447.7" x2="370.5" y2="447.7" stroke="#555" stroke-width="0.7"/>
<line x1="368.5" y1="442.5" x2="370.5" y2="442.5" stroke="#555" stroke-width="0.7"/>
<line x1="368.5" y1="438.8" x2="370.5" y2="438.8" stroke="#555" stroke-width="0.7"/>
<line x1="368.5" y1="436.0" x2="370.5" y2="436.0" stroke="#555" stroke-width="0.7"/>
<line x1="368.5" y1="433.6" x2="370.5" y2="433.6" stroke="#555" stroke-width="0.7"/>
<line x1="368.5" y1="431.7" x2="370.5" y2="431.7" stroke="#555" stroke-width="0.7"/>
<line x1="368.5" y1="430.0" x2="370.5" y2="430.0" stroke="#555" stroke-width="0.7"/>
<line x1="368.5" y1="428.4" x2="370.5" y2="428.4" stroke="#555" stroke-width="0.7"/>
<line x1="366.7" y1="427.1" x2="370.5" y2="427.1" stroke="#222" stroke-width="1"/>
<line x1="368.5" y1="418.2" x2="370.5" y2="418.2" stroke="#555" stroke-width="0.7"/>
<line x1="368.5" y1="413.0" x2="370.5" y2="413.0" stroke="#555" stroke-width="0.7"/>
<line x1="368.5" y1="409.3" x2="370.5" y2="409.3" stroke="#555" stroke-width="0.7"/>
<line x1="368.5" y1="406.5" x2="370.5" y2="406.5" stroke="#555" stroke-width="0.7"/>
<line x1="368.5" y1="404.1" x2="370.5" y2="404.1" stroke="#555" stroke-width="0.7"/>
<line x1="368.5" y1="402.2" x2="370.5" y2="402.2" stroke="#555" stroke-width="0.7"/>
<line x1="368.5" y1="400.5" x2="370.5" y2="400.5" stroke="#555" stroke-width="0.7"/>
<line x1="368.5" y1="398.9" x2="370.5" y2="398.9" stroke="#555" stroke-width="0.7"/>
<line x1="366.7" y1="397.6" x2="370.5" y2="397.6" stroke="#222" stroke-width="1"/>
<line x1="368.5" y1="388.7" x2="370.5" y2="388.7" stroke="#555" stroke-width="0.7"/>
<line x1="368.5" y1="383.5" x2="370.5" y2="383.5" stroke="#555" stroke-width="0.7"/>
<line x1="368.5" y1="379.8" x2="370.5" y2="379.8" stroke="#555" stroke-width="0.7"/>
<line x1="368.5" y1="377.0" x2="370.5" y2="377.0" stroke="#555" stroke-width="0.7"/>
<line x1="368.5" y1="374.6" x2="370.5" y2="374.6" stroke="#555" stroke-width="0.7"/>
<line x1="368.5" y1="372.7" x2="370.5" y2="372.7" stroke="#555" stroke-width="0.7"/>
<line x1="368.5" y1="371.0" x2="370.5" y2="371.0" stroke="#555" stroke-width="0.7"/>
<line x1="368.5" y1="369.4" x2="370.5" y2="369.4" stroke="#555" stroke-width="0.7"/>
<line x1="366.7" y1="368.1" x2="370.5" y2="368.1" stroke="#222" stroke-width="1"/>
<line x1="368.5" y1="359.2" x2="370.5" y2="359.2" stroke="#555" stroke-width="0.7"/>
<line x1="368.5" y1="354.0" x2="370.5" y2="354.0" stroke="#555" stroke-width="0.7"/>
<line x1="368.5" y1="350.3" x2="370.5" y2="350.3" stroke="#555" stroke-width="0.7"/>
<line x1="368.5" y1="347.5" x2="370.5" y2="347.5" stroke="#555" stroke-width="0.7"/>
<line x1="368.5" y1="345.1" x2="370.5" y2="345.1" stroke="#555" stroke-width="0.7"/>
<path d="M370.5,458.5 L506,458.5" stroke="#303030" stroke-width="2.4" stroke-dasharray="5 0.6 2 0.5 7 0.8 3 0.5"/>
<line x1="371.5" y1="457.6" x2="371.5" y2="461.20000000000005" stroke="#222" stroke-width="1"/>
<line x1="379.2" y1="457.6" x2="379.2" y2="460.0" stroke="#555" stroke-width="0.7"/>
<line x1="383.7" y1="457.6" x2="383.7" y2="460.0" stroke="#555" stroke-width="0.7"/>
<line x1="386.9" y1="457.6" x2="386.9" y2="460.0" stroke="#555" stroke-width="0.7"/>
<line x1="389.3" y1="457.6" x2="389.3" y2="460.0" stroke="#555" stroke-width="0.7"/>
<line x1="391.3" y1="457.6" x2="391.3" y2="460.0" stroke="#555" stroke-width="0.7"/>
<line x1="393.1" y1="457.6" x2="393.1" y2="460.0" stroke="#555" stroke-width="0.7"/>
<line x1="394.5" y1="457.6" x2="394.5" y2="460.0" stroke="#555" stroke-width="0.7"/>
<line x1="395.8" y1="457.6" x2="395.8" y2="460.0" stroke="#555" stroke-width="0.7"/>
<line x1="397.0" y1="457.6" x2="397.0" y2="461.20000000000005" stroke="#222" stroke-width="1"/>
<line x1="404.7" y1="457.6" x2="404.7" y2="460.0" stroke="#555" stroke-width="0.7"/>
<line x1="409.2" y1="457.6" x2="409.2" y2="460.0" stroke="#555" stroke-width="0.7"/>
<line x1="412.4" y1="457.6" x2="412.4" y2="460.0" stroke="#555" stroke-width="0.7"/>
<line x1="414.8" y1="457.6" x2="414.8" y2="460.0" stroke="#555" stroke-width="0.7"/>
<line x1="416.8" y1="457.6" x2="416.8" y2="460.0" stroke="#555" stroke-width="0.7"/>
<line x1="418.6" y1="457.6" x2="418.6" y2="460.0" stroke="#555" stroke-width="0.7"/>
<line x1="420.0" y1="457.6" x2="420.0" y2="460.0" stroke="#555" stroke-width="0.7"/>
<line x1="421.3" y1="457.6" x2="421.3" y2="460.0" stroke="#555" stroke-width="0.7"/>
<line x1="422.5" y1="457.6" x2="422.5" y2="461.20000000000005" stroke="#222" stroke-width="1"/>
<line x1="430.2" y1="457.6" x2="430.2" y2="460.0" stroke="#555" stroke-width="0.7"/>
<line x1="434.7" y1="457.6" x2="434.7" y2="460.0" stroke="#555" stroke-width="0.7"/>
<line x1="437.9" y1="457.6" x2="437.9" y2="460.0" stroke="#555" stroke-width="0.7"/>
<line x1="440.3" y1="457.6" x2="440.3" y2="460.0" stroke="#555" stroke-width="0.7"/>
<line x1="442.3" y1="457.6" x2="442.3" y2="460.0" stroke="#555" stroke-width="0.7"/>
<line x1="444.1" y1="457.6" x2="444.1" y2="460.0" stroke="#555" stroke-width="0.7"/>
<line x1="445.5" y1="457.6" x2="445.5" y2="460.0" stroke="#555" stroke-width="0.7"/>
<line x1="446.8" y1="457.6" x2="446.8" y2="460.0" stroke="#555" stroke-width="0.7"/>
<line x1="448.0" y1="457.6" x2="448.0" y2="461.20000000000005" stroke="#222" stroke-width="1"/>
<line x1="455.7" y1="457.6" x2="455.7" y2="460.0" stroke="#555" stroke-width="0.7"/>
<line x1="460.2" y1="457.6" x2="460.2" y2="460.0" stroke="#555" stroke-width="0.7"/>
<line x1="463.4" y1="457.6" x2="463.4" y2="460.0" stroke="#555" stroke-width="0.7"/>
<line x1="465.8" y1="457.6" x2="465.8" y2="460.0" stroke="#555" stroke-width="0.7"/>
<line x1="467.8" y1="457.6" x2="467.8" y2="460.0" stroke="#555" stroke-width="0.7"/>
<line x1="469.6" y1="457.6" x2="469.6" y2="460.0" stroke="#555" stroke-width="0.7"/>
<line x1="471.0" y1="457.6" x2="471.0" y2="460.0" stroke="#555" stroke-width="0.7"/>
<line x1="472.3" y1="457.6" x2="472.3" y2="460.0" stroke="#555" stroke-width="0.7"/>
<line x1="473.5" y1="457.6" x2="473.5" y2="461.20000000000005" stroke="#222" stroke-width="1"/>
<line x1="481.2" y1="457.6" x2="481.2" y2="460.0" stroke="#555" stroke-width="0.7"/>
<line x1="485.7" y1="457.6" x2="485.7" y2="460.0" stroke="#555" stroke-width="0.7"/>
<line x1="488.9" y1="457.6" x2="488.9" y2="460.0" stroke="#555" stroke-width="0.7"/>
<line x1="491.3" y1="457.6" x2="491.3" y2="460.0" stroke="#555" stroke-width="0.7"/>
<line x1="493.3" y1="457.6" x2="493.3" y2="460.0" stroke="#555" stroke-width="0.7"/>
<line x1="495.1" y1="457.6" x2="495.1" y2="460.0" stroke="#555" stroke-width="0.7"/>
<line x1="496.5" y1="457.6" x2="496.5" y2="460.0" stroke="#555" stroke-width="0.7"/>
<line x1="497.8" y1="457.6" x2="497.8" y2="460.0" stroke="#555" stroke-width="0.7"/>
<rect x="39.6" y="418.5" width="2.4" height="27" rx="1.2" fill="#d8d8d8" stroke="#555" stroke-width="0.8"/>
<text x="44.3" y="353.6" font-size="12" fill="#222" stroke="#222" stroke-width="0.15" text-anchor="start" textLength="15.5" lengthAdjust="spacingAndGlyphs" >8%</text>
<text x="210.4" y="353.8" font-size="12" fill="#222" stroke="#222" stroke-width="0.15" text-anchor="start" textLength="21.8" lengthAdjust="spacingAndGlyphs" >38%</text>
<text x="376.2" y="353.9" font-size="12" fill="#222" stroke="#222" stroke-width="0.15" text-anchor="start" textLength="21.1" lengthAdjust="spacingAndGlyphs" >28%</text>
<path d="M84.2,379 C84.2,375 87.5,372.2 91.7,372.2 C94,372.2 95.5,373.5 96.5,374.3 C99,374.9 102,374.4 106,374.3 L114.9,374.6 C117,375 119.5,376.5 121.8,379.4 C123,381 124,382.5 125.5,383.5 C128,385 131,386 133.5,387 C136,388.5 138,391.5 138.8,394.5 C139.5,398 139.5,402 138.8,405.5 C138,409 136,412 134.5,413.5 C133,416 132,419.5 131.5,421 C130,423.5 127.5,425.3 123.4,425.2 C120,424.5 118,423 116.2,421.3 C114,420 112.5,419.5 111.3,419 C110,418.5 109,418.5 108.4,419 C107,421 106,424 105.5,427 C104.5,431 104,434 103.2,436 C102.3,440 101.8,448 101.5,455.8 L73,455.8 C71,453 69.5,450 68.1,447.4 C67,444 64.5,441 62,437.3 C60.3,434 59.8,429 61.5,425.2 C63.5,422.5 67,420 71,418 C74,416 77,414.5 79,412 C81,409.5 82,405 83,400 C83.8,396 84.6,392 85.3,389.4 C85.8,386 84.2,383 84.2,379 Z" fill="#0a0a0a" stroke="#0a0a0a" stroke-width="1.6" stroke-linejoin="round"/>
<path d="M89.7,390.8 L107.2,392.2 C109,392.2 110.5,391 110.8,389 L110.8,412 C109.5,413 108.5,414.5 107.6,416.5 C106.3,419.5 105,423 104.3,427 C103.5,431 102.8,434 102,437 C101,441 100.5,448 100.3,455.8 L75.5,455.8 C73.6,453 72.3,450 71.2,447 C69.8,443.5 67.8,440.5 65.8,437 C64.4,434 64.4,429.5 65.7,427 C67.6,424.5 71,422.5 74.4,420.5 C77.8,418.5 80.8,416.5 82.6,413.5 C84.3,410.5 85.3,406 86.1,401.5 C86.9,397 87.6,393 89.7,390.8 Z" fill="url(#hb)"/>
<path d="M89.5,391.2 L107.5,392.4 C106,395 100,396.5 95,396.5 C91,396.5 88.5,395 89.5,391.2 Z" fill="#d8d8d8" opacity="0.8"/>
<path d="M112.3,385 C115,383.8 119,383 122.5,384 C125.5,385.5 128,387 131.5,388.2 C134.5,389.5 136.8,392 137.3,395.5 C137.8,399.5 137.5,404 136.2,408 C135,411 133.5,413.5 131.5,415.5 C128.5,417.5 124,418 120,417.5 C116,417 113.5,415 112.3,412.5 Z" fill="url(#hr)"/>
<line x1="111.4" y1="384" x2="111.4" y2="413" stroke="#2a2a2a" stroke-width="1.1"/>
<circle cx="91.3" cy="378.7" r="4.1" fill="#cacaca"/>
<circle cx="90.8" cy="378" r="1.8" fill="#dcdcdc"/>
<ellipse cx="101.5" cy="386.1" rx="6.2" ry="3.5" fill="#fdfdfd"/>
<ellipse cx="114.2" cy="380.2" rx="3.4" ry="2.3" fill="#c4c4c4" transform="rotate(35 114.2 380.2)"/>
<path d="M79,425 C79,419 83.5,416.5 87.5,418 C90.5,419 91.5,415.5 92.2,410 C92.6,402 94.5,395.6 97.7,395.6 C101.2,395.6 102.8,401 102.6,407 C102.4,413 100.3,418 99.3,424 C98.6,432 99,442 97.2,448.5 C95.8,453 91.5,453.8 88.8,452.2 C84.5,449.6 81.8,442.5 80.2,436.5 C79.4,432.5 79,428.5 79,425 Z" fill="url(#z2h)" stroke="#0a0a0a" stroke-width="2.4"/>
<path d="M79,425 C79,419 83.5,416.5 87.5,418 C90.5,419 91.5,415.5 92.2,410 C92.6,402 94.5,395.6 97.7,395.6 C101.2,395.6 102.8,401 102.6,407 C102.4,413 100.3,418 99.3,424 C98.6,432 99,442 97.2,448.5 C95.8,453 91.5,453.8 88.8,452.2 C84.5,449.6 81.8,442.5 80.2,436.5 C79.4,432.5 79,428.5 79,425 Z" fill="none" stroke="#fafafa" stroke-width="1.2"/>
<ellipse cx="97.4" cy="405.8" rx="3.5" ry="8.0" fill="url(#z3)" stroke="#0a0a0a" stroke-width="2.2" transform="rotate(6 97.4 405.8)"/>
<ellipse cx="97.4" cy="405.8" rx="3.5" ry="8.0" fill="none" stroke="#fafafa" stroke-width="1.1" transform="rotate(6 97.4 405.8)"/>
<ellipse cx="89.1" cy="433.5" rx="6.3" ry="10.6" fill="url(#z1)" stroke="#0a0a0a" stroke-width="2.2" transform="rotate(4 89.1 433.5)"/>
<ellipse cx="89.1" cy="433.5" rx="6.3" ry="10.6" fill="none" stroke="#fafafa" stroke-width="1.1" transform="rotate(4 89.1 433.5)"/>
<circle cx="89.9" cy="428.8" r="1.1" fill="#fff"/>
<ellipse cx="126.2" cy="398.2" rx="5.6" ry="6.2" fill="url(#z4)" stroke="#0a0a0a" stroke-width="2.2"/>
<ellipse cx="126.2" cy="398.2" rx="5.6" ry="6.2" fill="none" stroke="#fafafa" stroke-width="1.1"/>
<circle cx="126.5" cy="398.6" r="1.2" fill="#fff"/>
<rect x="301.5" y="428.0" width="1" height="1" fill="#b5b5b5"/>
<rect x="305.3" y="435.4" width="1" height="1" fill="#b5b5b5"/>
<rect x="330.2" y="432.2" width="1" height="1" fill="#c5c5c5"/>
<rect x="281.4" y="423.2" width="1" height="1" fill="#b5b5b5"/>
<rect x="289.7" y="440.0" width="1" height="1" fill="#c5c5c5"/>
<rect x="283.3" y="433.0" width="1" height="1" fill="#a0a0a0"/>
<rect x="326.7" y="394.7" width="1" height="1" fill="#b5b5b5"/>
<rect x="267.5" y="431.2" width="1" height="1" fill="#b5b5b5"/>
<rect x="298.0" y="431.1" width="1" height="1" fill="#8a8a8a"/>
<rect x="281.4" y="436.5" width="1" height="1" fill="#c5c5c5"/>
<rect x="295.6" y="421.2" width="1" height="1" fill="#a0a0a0"/>
<rect x="338.6" y="432.6" width="1" height="1" fill="#a0a0a0"/>
<rect x="278.9" y="426.7" width="1" height="1" fill="#c5c5c5"/>
<rect x="285.5" y="427.2" width="1" height="1" fill="#8a8a8a"/>
<rect x="235.4" y="421.7" width="1" height="1" fill="#b5b5b5"/>
<rect x="310.2" y="412.8" width="1" height="1" fill="#c5c5c5"/>
<rect x="288.7" y="440.4" width="1" height="1" fill="#b5b5b5"/>
<rect x="307.1" y="447.4" width="1" height="1" fill="#b5b5b5"/>
<rect x="256.0" y="423.4" width="1" height="1" fill="#c5c5c5"/>
<rect x="283.2" y="436.1" width="1" height="1" fill="#b5b5b5"/>
<rect x="311.8" y="393.1" width="1" height="1" fill="#8a8a8a"/>
<rect x="311.8" y="409.2" width="1" height="1" fill="#8a8a8a"/>
<rect x="303.7" y="408.6" width="1" height="1" fill="#a0a0a0"/>
<rect x="293.5" y="443.5" width="1" height="1" fill="#a0a0a0"/>
<rect x="287.0" y="430.5" width="1" height="1" fill="#b5b5b5"/>
<rect x="305.9" y="429.8" width="1" height="1" fill="#c5c5c5"/>
<rect x="288.2" y="447.9" width="1" height="1" fill="#c5c5c5"/>
<rect x="311.0" y="424.2" width="1" height="1" fill="#c5c5c5"/>
<rect x="308.3" y="424.5" width="1" height="1" fill="#c5c5c5"/>
<rect x="292.6" y="437.2" width="1" height="1" fill="#b5b5b5"/>
<rect x="294.4" y="436.3" width="1" height="1" fill="#8a8a8a"/>
<rect x="259.5" y="408.4" width="1" height="1" fill="#a0a0a0"/>
<rect x="302.3" y="415.5" width="1" height="1" fill="#c5c5c5"/>
<rect x="269.5" y="408.9" width="1" height="1" fill="#a0a0a0"/>
<rect x="315.3" y="437.7" width="1" height="1" fill="#c5c5c5"/>
<rect x="319.5" y="415.8" width="1" height="1" fill="#8a8a8a"/>
<rect x="290.0" y="413.2" width="1" height="1" fill="#8a8a8a"/>
<rect x="305.3" y="448.7" width="1" height="1" fill="#8a8a8a"/>
<rect x="272.2" y="448.3" width="1" height="1" fill="#8a8a8a"/>
<rect x="309.8" y="425.7" width="1" height="1" fill="#c5c5c5"/>
<rect x="250.6" y="446.3" width="1" height="1" fill="#b5b5b5"/>
<rect x="288.1" y="420.2" width="1" height="1" fill="#b5b5b5"/>
<rect x="298.0" y="433.3" width="1" height="1" fill="#8a8a8a"/>
<rect x="320.0" y="414.7" width="1" height="1" fill="#c5c5c5"/>
<rect x="312.7" y="447.3" width="1" height="1" fill="#b5b5b5"/>
<rect x="319.0" y="425.7" width="1" height="1" fill="#c5c5c5"/>
<rect x="275.1" y="441.2" width="1" height="1" fill="#a0a0a0"/>
<rect x="292.3" y="429.6" width="1" height="1" fill="#c5c5c5"/>
<rect x="318.5" y="424.6" width="1" height="1" fill="#c5c5c5"/>
<rect x="244.1" y="423.0" width="1" height="1" fill="#b5b5b5"/>
<rect x="252.9" y="438.6" width="1" height="1" fill="#c5c5c5"/>
<rect x="296.3" y="420.1" width="1" height="1" fill="#a0a0a0"/>
<rect x="289.8" y="438.8" width="1" height="1" fill="#a0a0a0"/>
<rect x="291.6" y="445.2" width="1" height="1" fill="#b5b5b5"/>
<rect x="288.8" y="441.5" width="1" height="1" fill="#c5c5c5"/>
<rect x="319.8" y="448.9" width="1" height="1" fill="#c5c5c5"/>
<rect x="276.6" y="439.4" width="1" height="1" fill="#a0a0a0"/>
<rect x="252.5" y="413.9" width="1" height="1" fill="#a0a0a0"/>
<rect x="250.7" y="441.9" width="1" height="1" fill="#8a8a8a"/>
<rect x="265.4" y="427.8" width="1" height="1" fill="#a0a0a0"/>
<rect x="286.2" y="427.6" width="1" height="1" fill="#a0a0a0"/>
<rect x="278.2" y="431.0" width="1" height="1" fill="#c5c5c5"/>
<rect x="325.8" y="428.6" width="1" height="1" fill="#8a8a8a"/>
<rect x="300.6" y="441.0" width="1" height="1" fill="#8a8a8a"/>
<rect x="286.0" y="411.6" width="1" height="1" fill="#a0a0a0"/>
<rect x="278.9" y="442.0" width="1" height="1" fill="#b5b5b5"/>
<rect x="257.1" y="420.2" width="1" height="1" fill="#c5c5c5"/>
<rect x="310.1" y="438.3" width="1" height="1" fill="#b5b5b5"/>
<rect x="290.2" y="438.5" width="1" height="1" fill="#8a8a8a"/>
<rect x="293.3" y="412.7" width="1" height="1" fill="#8a8a8a"/>
<rect x="258.7" y="419.7" width="1" height="1" fill="#c5c5c5"/>
<rect x="308.5" y="420.6" width="1" height="1" fill="#b5b5b5"/>
<rect x="272.0" y="418.0" width="1" height="1" fill="#c5c5c5"/>
<rect x="259.4" y="426.5" width="1" height="1" fill="#c5c5c5"/>
<rect x="266.4" y="432.7" width="1" height="1" fill="#c5c5c5"/>
<rect x="242.8" y="432.3" width="1" height="1" fill="#c5c5c5"/>
<rect x="277.2" y="402.8" width="1" height="1" fill="#c5c5c5"/>
<rect x="304.5" y="424.4" width="1" height="1" fill="#c5c5c5"/>
<rect x="245.4" y="416.6" width="1" height="1" fill="#a0a0a0"/>
<rect x="295.8" y="422.0" width="1" height="1" fill="#a0a0a0"/>
<rect x="305.6" y="437.7" width="1" height="1" fill="#8a8a8a"/>
<rect x="303.3" y="432.2" width="1" height="1" fill="#8a8a8a"/>
<rect x="316.7" y="436.6" width="1" height="1" fill="#8a8a8a"/>
<rect x="299.0" y="400.9" width="1" height="1" fill="#c5c5c5"/>
<rect x="307.9" y="445.0" width="1" height="1" fill="#8a8a8a"/>
<rect x="284.1" y="421.9" width="1" height="1" fill="#c5c5c5"/>
<rect x="328.8" y="405.1" width="1" height="1" fill="#a0a0a0"/>
<rect x="271.4" y="437.0" width="1" height="1" fill="#a0a0a0"/>
<rect x="327.7" y="426.4" width="1" height="1" fill="#a0a0a0"/>
<rect x="301.2" y="439.7" width="1" height="1" fill="#8a8a8a"/>
<rect x="271.9" y="426.8" width="1" height="1" fill="#8a8a8a"/>
<rect x="295.9" y="438.7" width="1" height="1" fill="#8a8a8a"/>
<rect x="289.3" y="425.5" width="1" height="1" fill="#c5c5c5"/>
<rect x="269.7" y="423.3" width="1" height="1" fill="#c5c5c5"/>
<rect x="307.8" y="429.3" width="1" height="1" fill="#a0a0a0"/>
<rect x="272.9" y="417.1" width="1" height="1" fill="#a0a0a0"/>
<rect x="302.7" y="394.3" width="1" height="1" fill="#c5c5c5"/>
<rect x="302.4" y="434.2" width="1" height="1" fill="#a0a0a0"/>
<rect x="323.7" y="433.6" width="1" height="1" fill="#c5c5c5"/>
<rect x="288.7" y="434.8" width="1" height="1" fill="#c5c5c5"/>
<rect x="251.1" y="441.4" width="1" height="1" fill="#c5c5c5"/>
<rect x="296.5" y="418.9" width="1" height="1" fill="#c5c5c5"/>
<rect x="316.5" y="451.5" width="1" height="1" fill="#c5c5c5"/>
<rect x="262.0" y="419.3" width="1" height="1" fill="#a0a0a0"/>
<rect x="295.8" y="430.4" width="1" height="1" fill="#c5c5c5"/>
<rect x="282.0" y="415.3" width="1" height="1" fill="#b5b5b5"/>
<rect x="332.4" y="441.5" width="1" height="1" fill="#8a8a8a"/>
<rect x="266.1" y="410.5" width="1" height="1" fill="#b5b5b5"/>
<rect x="324.1" y="440.9" width="1" height="1" fill="#8a8a8a"/>
<rect x="326.4" y="438.5" width="1" height="1" fill="#c5c5c5"/>
<rect x="272.6" y="431.4" width="1" height="1" fill="#c5c5c5"/>
<rect x="246.8" y="418.3" width="1" height="1" fill="#8a8a8a"/>
<rect x="288.8" y="434.8" width="1" height="1" fill="#c5c5c5"/>
<rect x="275.4" y="426.4" width="1" height="1" fill="#c5c5c5"/>
<rect x="299.2" y="432.9" width="1" height="1" fill="#c5c5c5"/>
<rect x="302.8" y="430.7" width="1" height="1" fill="#8a8a8a"/>
<rect x="283.5" y="438.3" width="1" height="1" fill="#c5c5c5"/>
<rect x="291.0" y="417.3" width="1" height="1" fill="#a0a0a0"/>
<rect x="277.5" y="428.0" width="1" height="1" fill="#a0a0a0"/>
<rect x="287.8" y="430.0" width="1" height="1" fill="#8a8a8a"/>
<rect x="290.0" y="430.3" width="1" height="1" fill="#b5b5b5"/>
<rect x="287.3" y="411.6" width="1" height="1" fill="#a0a0a0"/>
<rect x="298.4" y="441.7" width="1" height="1" fill="#8a8a8a"/>
<rect x="298.7" y="425.5" width="1" height="1" fill="#8a8a8a"/>
<rect x="298.9" y="415.4" width="1" height="1" fill="#b5b5b5"/>
<rect x="252.1" y="428.8" width="1" height="1" fill="#b5b5b5"/>
<rect x="271.4" y="437.6" width="1" height="1" fill="#8a8a8a"/>
<rect x="268.3" y="393.8" width="1" height="1" fill="#b5b5b5"/>
<rect x="269.2" y="448.5" width="1" height="1" fill="#c5c5c5"/>
<rect x="282.4" y="410.2" width="1" height="1" fill="#c5c5c5"/>
<rect x="274.7" y="434.8" width="1" height="1" fill="#c5c5c5"/>
<rect x="299.9" y="430.3" width="1" height="1" fill="#b5b5b5"/>
<rect x="319.7" y="437.2" width="1" height="1" fill="#b5b5b5"/>
<rect x="289.6" y="435.8" width="1" height="1" fill="#a0a0a0"/>
<rect x="323.1" y="440.6" width="1" height="1" fill="#8a8a8a"/>
<rect x="310.5" y="413.9" width="1" height="1" fill="#c5c5c5"/>
<rect x="287.0" y="437.5" width="1" height="1" fill="#8a8a8a"/>
<rect x="284.1" y="441.9" width="1" height="1" fill="#a0a0a0"/>
<rect x="301.9" y="439.8" width="1" height="1" fill="#b5b5b5"/>
<rect x="314.8" y="425.2" width="1" height="1" fill="#a0a0a0"/>
<rect x="283.1" y="439.4" width="1" height="1" fill="#a0a0a0"/>
<rect x="309.6" y="428.1" width="1" height="1" fill="#a0a0a0"/>
<rect x="266.7" y="430.4" width="1" height="1" fill="#b5b5b5"/>
<rect x="297.2" y="442.7" width="1" height="1" fill="#a0a0a0"/>
<rect x="305.7" y="428.3" width="1" height="1" fill="#c5c5c5"/>
<rect x="307.1" y="435.0" width="1" height="1" fill="#b5b5b5"/>
<rect x="294.1" y="428.7" width="1" height="1" fill="#c5c5c5"/>
<rect x="285.1" y="436.9" width="1" height="1" fill="#a0a0a0"/>
<rect x="268.9" y="419.8" width="1" height="1" fill="#c5c5c5"/>
<rect x="290.1" y="409.0" width="1" height="1" fill="#c5c5c5"/>
<rect x="281.3" y="401.9" width="1" height="1" fill="#c5c5c5"/>
<rect x="276.3" y="435.4" width="1" height="1" fill="#c5c5c5"/>
<rect x="301.3" y="427.3" width="1" height="1" fill="#c5c5c5"/>
<rect x="285.4" y="409.6" width="1" height="1" fill="#8a8a8a"/>
<rect x="326.6" y="434.7" width="1" height="1" fill="#8a8a8a"/>
<rect x="311.9" y="416.5" width="1" height="1" fill="#c5c5c5"/>
<rect x="286.3" y="404.3" width="1" height="1" fill="#a0a0a0"/>
<rect x="305.6" y="440.2" width="1" height="1" fill="#c5c5c5"/>
<rect x="252.1" y="427.3" width="1" height="1" fill="#b5b5b5"/>
<rect x="302.6" y="405.1" width="1" height="1" fill="#a0a0a0"/>
<rect x="253.5" y="414.2" width="1" height="1" fill="#c5c5c5"/>
<rect x="277.4" y="409.8" width="1" height="1" fill="#c5c5c5"/>
<rect x="290.6" y="431.2" width="1" height="1" fill="#c5c5c5"/>
<rect x="302.7" y="437.1" width="1" height="1" fill="#8a8a8a"/>
<rect x="320.1" y="443.1" width="1" height="1" fill="#c5c5c5"/>
<rect x="263.8" y="421.4" width="1" height="1" fill="#a0a0a0"/>
<rect x="268.8" y="414.0" width="1" height="1" fill="#a0a0a0"/>
<rect x="288.4" y="428.1" width="1" height="1" fill="#8a8a8a"/>
<rect x="299.8" y="407.4" width="1" height="1" fill="#8a8a8a"/>
<rect x="265.2" y="427.7" width="1" height="1" fill="#8a8a8a"/>
<rect x="286.0" y="424.0" width="1" height="1" fill="#8a8a8a"/>
<rect x="288.7" y="418.1" width="1" height="1" fill="#c5c5c5"/>
<rect x="304.0" y="432.6" width="1" height="1" fill="#a0a0a0"/>
<rect x="288.2" y="419.3" width="1" height="1" fill="#b5b5b5"/>
<rect x="286.5" y="392.6" width="1" height="1" fill="#a0a0a0"/>
<rect x="270.4" y="428.5" width="1" height="1" fill="#8a8a8a"/>
<rect x="259.9" y="430.6" width="1" height="1" fill="#8a8a8a"/>
<rect x="292.9" y="410.1" width="1" height="1" fill="#8a8a8a"/>
<rect x="285.0" y="423.9" width="1" height="1" fill="#a0a0a0"/>
<rect x="299.2" y="436.0" width="1" height="1" fill="#8a8a8a"/>
<rect x="289.3" y="416.9" width="1" height="1" fill="#8a8a8a"/>
<rect x="287.1" y="427.1" width="1" height="1" fill="#8a8a8a"/>
<rect x="304.7" y="431.8" width="1" height="1" fill="#8a8a8a"/>
<rect x="275.5" y="410.4" width="1" height="1" fill="#c5c5c5"/>
<rect x="282.5" y="418.4" width="1" height="1" fill="#b5b5b5"/>
<rect x="267.8" y="426.5" width="1" height="1" fill="#a0a0a0"/>
<rect x="280.2" y="429.4" width="1" height="1" fill="#c5c5c5"/>
<rect x="300.5" y="422.6" width="1" height="1" fill="#8a8a8a"/>
<rect x="336.5" y="423.8" width="1" height="1" fill="#c5c5c5"/>
<rect x="312.0" y="429.6" width="1" height="1" fill="#8a8a8a"/>
<rect x="312.3" y="397.1" width="1" height="1" fill="#a0a0a0"/>
<rect x="275.0" y="431.2" width="1" height="1" fill="#a0a0a0"/>
<rect x="296.5" y="444.6" width="1" height="1" fill="#a0a0a0"/>
<rect x="305.3" y="440.3" width="1" height="1" fill="#8a8a8a"/>
<rect x="300.2" y="426.0" width="1" height="1" fill="#8a8a8a"/>
<rect x="300.2" y="414.0" width="1" height="1" fill="#8a8a8a"/>
<rect x="313.6" y="414.8" width="1" height="1" fill="#8a8a8a"/>
<rect x="295.0" y="455.6" width="1" height="1" fill="#b5b5b5"/>
<rect x="285.5" y="428.3" width="1" height="1" fill="#c5c5c5"/>
<rect x="313.3" y="428.3" width="1" height="1" fill="#8a8a8a"/>
<rect x="273.8" y="431.4" width="1" height="1" fill="#a0a0a0"/>
<rect x="301.6" y="437.2" width="1" height="1" fill="#8a8a8a"/>
<rect x="274.5" y="450.8" width="1" height="1" fill="#a0a0a0"/>
<rect x="323.3" y="428.2" width="1" height="1" fill="#b5b5b5"/>
<rect x="295.4" y="422.4" width="1" height="1" fill="#b5b5b5"/>
<rect x="318.3" y="418.8" width="1" height="1" fill="#b5b5b5"/>
<rect x="303.5" y="421.8" width="1" height="1" fill="#c5c5c5"/>
<rect x="276.1" y="437.3" width="1" height="1" fill="#b5b5b5"/>
<rect x="316.7" y="427.9" width="1" height="1" fill="#8a8a8a"/>
<rect x="276.5" y="438.5" width="1" height="1" fill="#b5b5b5"/>
<rect x="289.0" y="432.0" width="1" height="1" fill="#b5b5b5"/>
<rect x="320.5" y="442.7" width="1" height="1" fill="#b5b5b5"/>
<rect x="290.1" y="438.2" width="1" height="1" fill="#8a8a8a"/>
<rect x="277.1" y="427.4" width="1" height="1" fill="#b5b5b5"/>
<rect x="255.0" y="451.2" width="1" height="1" fill="#b5b5b5"/>
<rect x="317.3" y="412.2" width="1" height="1" fill="#c5c5c5"/>
<rect x="259.9" y="406.9" width="1" height="1" fill="#c5c5c5"/>
<rect x="313.5" y="422.0" width="1" height="1" fill="#c5c5c5"/>
<rect x="288.8" y="423.9" width="1" height="1" fill="#b5b5b5"/>
<rect x="287.6" y="413.9" width="1" height="1" fill="#c5c5c5"/>
<rect x="290.5" y="409.3" width="1" height="1" fill="#8a8a8a"/>
<rect x="288.6" y="432.0" width="1" height="1" fill="#c5c5c5"/>
<rect x="299.4" y="425.0" width="1" height="1" fill="#8a8a8a"/>
<rect x="271.9" y="430.1" width="1" height="1" fill="#c5c5c5"/>
<rect x="280.3" y="448.4" width="1" height="1" fill="#c5c5c5"/>
<rect x="305.4" y="426.5" width="1" height="1" fill="#8a8a8a"/>
<rect x="280.6" y="418.9" width="1" height="1" fill="#b5b5b5"/>
<rect x="271.3" y="423.4" width="1" height="1" fill="#c5c5c5"/>
<rect x="295.9" y="434.7" width="1" height="1" fill="#8a8a8a"/>
<rect x="301.4" y="455.3" width="1" height="1" fill="#c5c5c5"/>
<rect x="275.9" y="428.2" width="1" height="1" fill="#c5c5c5"/>
<rect x="279.6" y="430.2" width="1" height="1" fill="#a0a0a0"/>
<rect x="293.1" y="433.3" width="1" height="1" fill="#8a8a8a"/>
<rect x="285.2" y="432.8" width="1" height="1" fill="#c5c5c5"/>
<rect x="291.1" y="438.0" width="1" height="1" fill="#b5b5b5"/>
<rect x="252.1" y="416.5" width="1" height="1" fill="#a0a0a0"/>
<rect x="290.0" y="414.6" width="1" height="1" fill="#c5c5c5"/>
<rect x="269.1" y="436.2" width="1" height="1" fill="#8a8a8a"/>
<rect x="277.0" y="436.3" width="1" height="1" fill="#c5c5c5"/>
<rect x="304.9" y="432.0" width="1" height="1" fill="#a0a0a0"/>
<rect x="300.2" y="426.6" width="1" height="1" fill="#b5b5b5"/>
<rect x="261.8" y="427.6" width="1" height="1" fill="#8a8a8a"/>
<rect x="299.1" y="421.1" width="1" height="1" fill="#8a8a8a"/>
<rect x="288.0" y="437.7" width="1" height="1" fill="#b5b5b5"/>
<rect x="272.4" y="436.3" width="1" height="1" fill="#c5c5c5"/>
<rect x="327.3" y="420.8" width="1" height="1" fill="#8a8a8a"/>
<rect x="292.9" y="426.0" width="1" height="1" fill="#c5c5c5"/>
<rect x="320.8" y="432.1" width="1" height="1" fill="#a0a0a0"/>
<rect x="308.0" y="419.0" width="1" height="1" fill="#c5c5c5"/>
<rect x="289.7" y="427.9" width="1" height="1" fill="#c5c5c5"/>
<rect x="254.5" y="446.7" width="1" height="1" fill="#b5b5b5"/>
<rect x="308.0" y="405.3" width="1" height="1" fill="#c5c5c5"/>
<rect x="304.9" y="426.3" width="1" height="1" fill="#b5b5b5"/>
<rect x="299.0" y="432.8" width="1" height="1" fill="#c5c5c5"/>
<rect x="260.0" y="425.2" width="1" height="1" fill="#a0a0a0"/>
<rect x="319.9" y="420.5" width="1" height="1" fill="#b5b5b5"/>
<rect x="269.5" y="410.3" width="1" height="1" fill="#a0a0a0"/>
<rect x="265.6" y="432.4" width="1" height="1" fill="#a0a0a0"/>
<rect x="323.9" y="433.6" width="1" height="1" fill="#c5c5c5"/>
<rect x="279.6" y="419.2" width="1" height="1" fill="#a0a0a0"/>
<rect x="249.6" y="400.8" width="1" height="1" fill="#8a8a8a"/>
<rect x="215.7" y="373.3" width="1" height="1" fill="#8a8a8a"/>
<rect x="244.4" y="396.0" width="1" height="1" fill="#c5c5c5"/>
<rect x="209.2" y="388.8" width="1" height="1" fill="#c5c5c5"/>
<rect x="226.1" y="399.4" width="1" height="1" fill="#8a8a8a"/>
<rect x="235.4" y="390.6" width="1" height="1" fill="#b5b5b5"/>
<rect x="230.2" y="408.9" width="1" height="1" fill="#b5b5b5"/>
<rect x="268.6" y="386.1" width="1" height="1" fill="#8a8a8a"/>
<rect x="256.6" y="379.9" width="1" height="1" fill="#c5c5c5"/>
<rect x="239.6" y="404.0" width="1" height="1" fill="#c5c5c5"/>
<rect x="271.3" y="385.9" width="1" height="1" fill="#8a8a8a"/>
<rect x="236.4" y="395.1" width="1" height="1" fill="#c5c5c5"/>
<rect x="223.1" y="397.9" width="1" height="1" fill="#8a8a8a"/>
<rect x="238.8" y="396.2" width="1" height="1" fill="#b5b5b5"/>
<rect x="225.9" y="406.2" width="1" height="1" fill="#a0a0a0"/>
<rect x="232.0" y="382.3" width="1" height="1" fill="#b5b5b5"/>
<rect x="223.1" y="391.7" width="1" height="1" fill="#b5b5b5"/>
<rect x="256.7" y="389.4" width="1" height="1" fill="#c5c5c5"/>
<rect x="244.8" y="381.5" width="1" height="1" fill="#c5c5c5"/>
<rect x="244.6" y="418.6" width="1" height="1" fill="#c5c5c5"/>
<rect x="222.9" y="429.9" width="1" height="1" fill="#a0a0a0"/>
<rect x="223.8" y="392.3" width="1" height="1" fill="#c5c5c5"/>
<rect x="241.8" y="408.4" width="1" height="1" fill="#a0a0a0"/>
<rect x="251.3" y="404.7" width="1" height="1" fill="#c5c5c5"/>
<rect x="251.7" y="434.1" width="1" height="1" fill="#a0a0a0"/>
<rect x="242.5" y="396.1" width="1" height="1" fill="#c5c5c5"/>
<rect x="258.4" y="397.9" width="1" height="1" fill="#c5c5c5"/>
<rect x="274.6" y="372.2" width="1" height="1" fill="#c5c5c5"/>
<rect x="255.9" y="386.0" width="1" height="1" fill="#8a8a8a"/>
<rect x="258.3" y="426.5" width="1" height="1" fill="#b5b5b5"/>
<rect x="237.9" y="387.9" width="1" height="1" fill="#c5c5c5"/>
<rect x="227.0" y="378.6" width="1" height="1" fill="#b5b5b5"/>
<rect x="224.1" y="402.2" width="1" height="1" fill="#c5c5c5"/>
<rect x="238.8" y="393.1" width="1" height="1" fill="#a0a0a0"/>
<rect x="234.2" y="406.6" width="1" height="1" fill="#c5c5c5"/>
<rect x="248.9" y="389.7" width="1" height="1" fill="#c5c5c5"/>
<rect x="252.6" y="389.6" width="1" height="1" fill="#b5b5b5"/>
<rect x="212.6" y="415.3" width="1" height="1" fill="#a0a0a0"/>
<rect x="248.2" y="376.7" width="1" height="1" fill="#c5c5c5"/>
<rect x="261.7" y="397.5" width="1" height="1" fill="#c5c5c5"/>
<rect x="245.3" y="406.3" width="1" height="1" fill="#b5b5b5"/>
<rect x="242.4" y="389.6" width="1" height="1" fill="#c5c5c5"/>
<rect x="238.7" y="387.4" width="1" height="1" fill="#a0a0a0"/>
<rect x="245.7" y="393.2" width="1" height="1" fill="#a0a0a0"/>
<rect x="252.9" y="386.1" width="1" height="1" fill="#b5b5b5"/>
<rect x="228.7" y="402.8" width="1" height="1" fill="#c5c5c5"/>
<rect x="267.4" y="386.2" width="1" height="1" fill="#a0a0a0"/>
<rect x="235.3" y="417.3" width="1" height="1" fill="#c5c5c5"/>
<rect x="230.8" y="403.7" width="1" height="1" fill="#a0a0a0"/>
<rect x="274.9" y="392.6" width="1" height="1" fill="#b5b5b5"/>
<rect x="265.0" y="380.6" width="1" height="1" fill="#b5b5b5"/>
<rect x="242.6" y="390.8" width="1" height="1" fill="#c5c5c5"/>
<rect x="240.5" y="410.1" width="1" height="1" fill="#a0a0a0"/>
<rect x="290.6" y="381.4" width="1" height="1" fill="#a0a0a0"/>
<rect x="225.3" y="400.0" width="1" height="1" fill="#a0a0a0"/>
<rect x="214.8" y="400.0" width="1" height="1" fill="#b5b5b5"/>
<rect x="250.6" y="387.6" width="1" height="1" fill="#c5c5c5"/>
<rect x="222.7" y="383.1" width="1" height="1" fill="#c5c5c5"/>
<rect x="229.2" y="405.7" width="1" height="1" fill="#b5b5b5"/>
<rect x="239.8" y="385.6" width="1" height="1" fill="#a0a0a0"/>
<rect x="250.0" y="417.3" width="1" height="1" fill="#a0a0a0"/>
<rect x="238.1" y="397.9" width="1" height="1" fill="#b5b5b5"/>
<rect x="265.3" y="396.3" width="1" height="1" fill="#a0a0a0"/>
<rect x="209.8" y="431.8" width="1" height="1" fill="#b5b5b5"/>
<rect x="237.1" y="398.7" width="1" height="1" fill="#8a8a8a"/>
<rect x="259.2" y="402.7" width="1" height="1" fill="#a0a0a0"/>
<rect x="232.0" y="375.1" width="1" height="1" fill="#8a8a8a"/>
<rect x="240.3" y="408.5" width="1" height="1" fill="#a0a0a0"/>
<rect x="214.0" y="375.6" width="1" height="1" fill="#c5c5c5"/>
<rect x="232.3" y="385.0" width="1" height="1" fill="#a0a0a0"/>
<rect x="247.9" y="380.8" width="1" height="1" fill="#a0a0a0"/>
<rect x="218.6" y="385.7" width="1" height="1" fill="#b5b5b5"/>
<rect x="236.9" y="381.4" width="1" height="1" fill="#b5b5b5"/>
<rect x="238.3" y="404.0" width="1" height="1" fill="#c5c5c5"/>
<rect x="264.1" y="419.3" width="1" height="1" fill="#b5b5b5"/>
<rect x="220.8" y="385.3" width="1" height="1" fill="#a0a0a0"/>
<rect x="222.1" y="391.5" width="1" height="1" fill="#8a8a8a"/>
<rect x="248.2" y="391.6" width="1" height="1" fill="#8a8a8a"/>
<rect x="255.8" y="395.3" width="1" height="1" fill="#b5b5b5"/>
<rect x="248.4" y="399.1" width="1" height="1" fill="#a0a0a0"/>
<rect x="266.7" y="388.4" width="1" height="1" fill="#c5c5c5"/>
<rect x="257.2" y="385.4" width="1" height="1" fill="#c5c5c5"/>
<rect x="254.0" y="379.0" width="1" height="1" fill="#8a8a8a"/>
<rect x="235.6" y="419.7" width="1" height="1" fill="#8a8a8a"/>
<rect x="247.8" y="389.5" width="1" height="1" fill="#c5c5c5"/>
<rect x="212.8" y="379.4" width="1" height="1" fill="#c5c5c5"/>
<rect x="242.3" y="407.0" width="1" height="1" fill="#a0a0a0"/>
<rect x="247.4" y="400.4" width="1" height="1" fill="#c5c5c5"/>
<rect x="237.1" y="413.6" width="1" height="1" fill="#b5b5b5"/>
<rect x="229.4" y="383.2" width="1" height="1" fill="#c5c5c5"/>
<rect x="325.5" y="421.9" width="1" height="1" fill="#8a8a8a"/>
<rect x="278.9" y="402.7" width="1" height="1" fill="#a0a0a0"/>
<rect x="279.7" y="438.7" width="1" height="1" fill="#b5b5b5"/>
<rect x="304.1" y="383.7" width="1" height="1" fill="#c5c5c5"/>
<rect x="307.1" y="425.4" width="1" height="1" fill="#c5c5c5"/>
<rect x="250.0" y="443.2" width="1" height="1" fill="#8a8a8a"/>
<rect x="278.8" y="409.9" width="1" height="1" fill="#a0a0a0"/>
<rect x="262.5" y="433.1" width="1" height="1" fill="#c5c5c5"/>
<rect x="270.2" y="455.8" width="1" height="1" fill="#c5c5c5"/>
<rect x="264.1" y="444.3" width="1" height="1" fill="#c5c5c5"/>
<rect x="272.6" y="435.0" width="1" height="1" fill="#c5c5c5"/>
<rect x="286.3" y="399.9" width="1" height="1" fill="#a0a0a0"/>
<rect x="224.2" y="445.6" width="1" height="1" fill="#c5c5c5"/>
<rect x="221.1" y="454.5" width="1" height="1" fill="#a0a0a0"/>
<rect x="266.9" y="424.3" width="1" height="1" fill="#a0a0a0"/>
<rect x="337.3" y="442.2" width="1" height="1" fill="#8a8a8a"/>
<rect x="257.4" y="445.8" width="1" height="1" fill="#c5c5c5"/>
<rect x="309.9" y="439.4" width="1" height="1" fill="#c5c5c5"/>
<rect x="326.0" y="442.0" width="1" height="1" fill="#b5b5b5"/>
<rect x="296.8" y="434.8" width="1" height="1" fill="#b5b5b5"/>
<rect x="276.8" y="421.1" width="1" height="1" fill="#8a8a8a"/>
<rect x="325.4" y="406.7" width="1" height="1" fill="#c5c5c5"/>
<rect x="335.9" y="396.4" width="1" height="1" fill="#a0a0a0"/>
<rect x="300.7" y="404.2" width="1" height="1" fill="#c5c5c5"/>
<rect x="296.3" y="399.3" width="1" height="1" fill="#a0a0a0"/>
<rect x="226.1" y="452.8" width="1" height="1" fill="#b5b5b5"/>
<rect x="302.1" y="403.2" width="1" height="1" fill="#c5c5c5"/>
<rect x="298.0" y="449.7" width="1" height="1" fill="#c5c5c5"/>
<rect x="250.9" y="416.7" width="1" height="1" fill="#c5c5c5"/>
<rect x="311.6" y="435.8" width="1" height="1" fill="#8a8a8a"/>
<rect x="290.5" y="411.6" width="1" height="1" fill="#c5c5c5"/>
<rect x="300.5" y="407.2" width="1" height="1" fill="#c5c5c5"/>
<rect x="249.0" y="397.8" width="1" height="1" fill="#c5c5c5"/>
<rect x="266.1" y="401.6" width="1" height="1" fill="#a0a0a0"/>
<rect x="243.7" y="439.1" width="1" height="1" fill="#b5b5b5"/>
<rect x="237.6" y="439.8" width="1" height="1" fill="#8a8a8a"/>
<rect x="249.4" y="430.6" width="1" height="1" fill="#c5c5c5"/>
<rect x="260.8" y="421.4" width="1" height="1" fill="#c5c5c5"/>
<rect x="265.7" y="424.9" width="1" height="1" fill="#8a8a8a"/>
<rect x="271.2" y="422.4" width="1" height="1" fill="#8a8a8a"/>
<rect x="319.4" y="443.0" width="1" height="1" fill="#b5b5b5"/>
<rect x="326.2" y="437.7" width="1" height="1" fill="#c5c5c5"/>
<rect x="278.5" y="419.4" width="1" height="1" fill="#a0a0a0"/>
<rect x="279.2" y="410.6" width="1" height="1" fill="#a0a0a0"/>
<rect x="276.7" y="419.3" width="1" height="1" fill="#a0a0a0"/>
<rect x="251.0" y="419.3" width="1" height="1" fill="#c5c5c5"/>
<rect x="310.6" y="415.1" width="1" height="1" fill="#b5b5b5"/>
<rect x="310.8" y="410.9" width="1" height="1" fill="#8a8a8a"/>
<rect x="324.1" y="431.2" width="1" height="1" fill="#c5c5c5"/>
<rect x="290.9" y="402.4" width="1" height="1" fill="#c5c5c5"/>
<rect x="315.5" y="405.4" width="1" height="1" fill="#c5c5c5"/>
<rect x="298.9" y="404.7" width="1" height="1" fill="#a0a0a0"/>
<rect x="298.1" y="442.6" width="1" height="1" fill="#c5c5c5"/>
<rect x="255.0" y="419.0" width="1" height="1" fill="#c5c5c5"/>
<rect x="314.7" y="424.4" width="1" height="1" fill="#8a8a8a"/>
<rect x="326.9" y="444.4" width="1" height="1" fill="#b5b5b5"/>
<rect x="265.3" y="398.6" width="1" height="1" fill="#c5c5c5"/>
<rect x="325.5" y="392.7" width="1" height="1" fill="#b5b5b5"/>
<rect x="217.5" y="390.1" width="1" height="1" fill="#c5c5c5"/>
<rect x="262.5" y="398.1" width="1" height="1" fill="#c5c5c5"/>
<path d="M259,456.5 L259,453.6 L313,453.6 C316.5,453.6 318.2,455 318.8,457" fill="#e2e2e2" stroke="#5a5a5a" stroke-width="1.1"/>
<path d="M209.3,378.1 C212,379 214.5,379.3 217,379.5 C222,379.8 226,379 230.7,378.5 C234,378.3 237.5,378.8 240.9,380.4 C243,381 244.5,381.5 245.5,382.5 C247,384 248,387 249,390 C250,392.5 251.4,394.7 253,397 C254.5,399.5 256.5,401.5 258.5,402.5 C261,402.5 264,401.5 268.2,399.6 C272,398.2 276,397.4 279,396.5 C282,395.2 285,395 287,397 C288,399 286,401 284.5,403 C282.5,405.5 281,408.5 280.8,411.5 C280.6,413.5 281.5,414.5 283.4,414.2 C286,413.5 289.5,412 292.8,409.9 C295,408.5 298,407.6 301,407.8 C304.5,408 307.5,409.5 309.5,412 C311,414.5 313,417 314.8,419.5 C316.2,421.5 315.5,424 314,425.2 C311.5,427 309.5,428 306.5,429.5 C304,430.8 302.5,432.5 301.5,434.5 C300,436 298,436.3 296,435.8 C294,435 293,432.5 292.6,430 C292,427.5 290.5,426 288.5,425.7 C286,425.5 283.5,426.5 281,426 C279,425.8 277.5,427.5 276,429 C273.5,430.5 271,430 269.5,428.5 C266,431 262,434 259.5,437 C257.5,440 256.5,443 255.5,446 C254.5,449 253.5,451.5 252.8,454 L252.3,457.3 L223.5,457.3 C221.5,452 220,448 219.2,444.4 C217.5,440.5 216,437 215.5,433 C214.8,428 214.8,423 215.2,419 C215.8,415 216.5,412 217.8,409.5 C218.5,406.5 219.5,404.5 219.8,402.7 C219.5,400 218.2,398.7 216.5,396.5 C213.5,393 211.5,389 210.3,385 C209.6,382.5 209.2,380 209.3,378.1 Z" fill="#0a0a0a" stroke="#0a0a0a" stroke-width="1.9" stroke-linejoin="round"/>
<path d="M217.4,381.6 C222,381.6 226,381 230.7,380.6 C234.5,380.4 238,380.9 240.6,382.3 C242.6,383.2 244,384 245,386 C246,388 246.8,390.5 247.6,392.5 C249,395.5 250.8,398.5 253.5,401.5 C255.8,403.8 258.5,404.8 261,404.5 C264,403.8 268,402.2 272,401 C275,400 277.5,400 278,402 C278.2,405 277,409 276,412.3 C274.5,416 271.5,418 268.5,420 C265.5,422.5 263,425.5 261.5,429 C259.5,432.5 257,436 255,440.5 C253.5,444 252.5,449 251.5,455.8 L224.3,455.8 C223,452 221.8,448.5 220.8,444.2 C219.2,440 217.6,436.5 217.2,432.5 C216.6,428 216.6,423 217,419 C217.5,415 218.3,412.2 219.5,409.8 C220.6,407 221.6,405 221.8,402.7 C221.6,399.5 220.2,397.5 219.2,395.5 C217.8,392 217.4,388 217.4,381.6 Z" fill="url(#cb)"/>
<path d="M217.6,382 C222,381.8 226,381.2 230.7,380.8 C234.5,380.6 238,381.1 240.4,382.4 C242.3,383.3 243.6,384.3 244.6,386.2 C245.6,388.2 246.4,390.6 247.2,392.6 C248.5,395.6 250.3,398.6 252.8,401.6 C254.5,403.5 256,404.6 258.5,405.2 L258.5,406.9 L221.2,406.9 C221.6,405.5 221.8,404 221.8,402.7 C221.6,399.5 220.4,397.5 219.5,395.4 C218.2,392 217.6,388 217.6,382 Z" fill="url(#cu)"/>
<path d="M261,404.5 C264,403.8 268,402.2 272,401 C275,400 277.5,400 278,402 C278.2,405 277,409 276,412.3 C274.5,416 271.5,418 268.5,420 C265.5,422.5 263,425.5 261.5,429 L260.5,430 L260.5,405 Z" fill="#c4c4c4"/>
<path d="M294.5,414.6 C296.5,414.1 298.5,414 300.4,414.2 C303.5,415 306.5,417.5 308.9,421 C308.2,424 307,426 305.5,426.9 C302.5,426.2 299.5,425.3 297,424.4 C295.5,423.2 294.6,421.8 294.5,420.1 C294.2,418 294.2,416.2 294.5,414.6 Z" fill="#cdcdcd"/>
<circle cx="288.9" cy="419.7" r="2.9" fill="#f2f2f2"/>
<circle cx="310.2" cy="432.5" r="0.8" fill="#111"/>
<path d="M239.4,411.5 C243,411.3 245.6,413 246.5,416.5 C247.6,420 247.7,425 247,429 C246,433.5 243.5,437 241.2,440 C239.5,443 238.5,447 236,447.8 C233.5,448.2 232,446 232.3,443.5 C232.6,440.5 230.5,436 229,432 C227.8,428 227.6,423.5 228.8,419.5 C230.2,415 234.5,411.6 239.4,411.5 Z" fill="url(#z2c)" stroke="#0a0a0a" stroke-width="2.8"/>
<path d="M239.4,411.5 C243,411.3 245.6,413 246.5,416.5 C247.6,420 247.7,425 247,429 C246,433.5 243.5,437 241.2,440 C239.5,443 238.5,447 236,447.8 C233.5,448.2 232,446 232.3,443.5 C232.6,440.5 230.5,436 229,432 C227.8,428 227.6,423.5 228.8,419.5 C230.2,415 234.5,411.6 239.4,411.5 Z" fill="none" stroke="#fafafa" stroke-width="1.3"/>
<ellipse cx="237.7" cy="425.6" rx="3.6" ry="5.6" fill="#eeeeee" stroke="#0a0a0a" stroke-width="1.6"/>
<ellipse cx="237.7" cy="425.6" rx="3.6" ry="5.6" fill="none" stroke="#fff" stroke-width="0.8"/>
<path d="M394.3,387.4 C395,385.5 397.5,383.9 401.2,383.9 C404,383.9 407,385 408.6,387.4 C409.8,389.5 410.5,392 411.2,394.5 C412,397 413.5,399.5 415.5,400.6 C417.5,401.8 419.5,402.8 422,403.8 C425,405.5 428.5,407 431,407 C434,406.8 437,404 440,402.5 C443,401.5 447,401.3 452,401 C455,400.5 458.5,399.5 461,402 C463,404 463.5,407 463,410 C462.5,414 461.5,417 461,420 C460.5,423 460.5,426 460,427.5 C459.5,429.5 458.5,431 457,432 C455,433 452,434 450,435 C448,436.5 446.5,438 443,438.3 C440,438.5 436.5,437.5 434,436 C431,434.5 428,432.5 426,432.5 C424,433.5 423,436 422,440 C421,443 419.5,446.5 418.9,446.5 C417.5,450 415,454 412.1,457.8 L392.6,457.8 C390,455.5 388,452.5 387.3,450.9 C385.5,447 384.5,444 384.2,441.2 C383.3,436 383.2,431 383.4,426.6 C383.5,421 384,416 385.1,412.3 C386,408.5 387.5,405.5 389.2,403.1 C391,400.5 392.3,398 392.8,395 C393.2,392 393.5,389.5 394.3,387.4 Z" fill="#0a0a0a" stroke="#0a0a0a" stroke-width="0.8" stroke-linejoin="round"/>
<path d="M395.8,388 C396.5,386.5 398.5,385.6 401.2,385.6 C403.5,385.6 405.8,386.3 407,388 C408.3,390 409,393 409.8,395.5 C410.8,398.5 412.5,401.5 415,403 C417.5,405 419.5,408 420.6,412.3 C421.5,416 422.2,420 422.4,424 C422.3,429 421.5,433 420.8,436.3 C420,441 419,444 418,447 C416.5,451 414.5,454.5 411.8,456.5 L393.3,456.5 C391,454.5 389.5,452 388.5,449.8 C386.8,446.5 386,443 385.8,440 C385.2,435 385,431 385.2,426.6 C385.3,421.5 385.8,417 386.8,413 C387.8,409.5 389,406.8 390.7,404.5 C392.5,401.8 393.8,399 394.3,396 C394.8,393 395.2,390 395.8,388 Z" fill="url(#db)"/>
<path d="M395.8,388 C396.5,386.5 398.5,385.6 401.2,385.6 C403.5,385.6 405.8,386.3 407,388 C408.3,390 409,393 409.8,395.5 C410.3,397 410.8,398.5 411.5,399.6 L393.9,399.6 C394.2,398.5 394.3,397 394.4,396 C394.8,393 395.2,390 395.8,388 Z" fill="#c6c6c6"/>
<path d="M415,403 C418,405 420.5,409 422.5,413.5 C424.5,417 426,419 426,421 C425,423 424,425 423.5,428 L422,430 C422.4,425 422.4,418 421,412 C419.5,408 417.5,405 415,403 Z" fill="#0a0a0a"/>
<path d="M435,411.5 C437,412.5 439,412.6 440.5,412 C443,410.8 445.5,409.6 448,408.6 C450.5,407.2 452.5,405.8 454.5,405.8 C456.3,405.8 457.8,406.6 458,408.2 C458.4,410.5 457.8,412.8 456.6,414.6 C455.2,416.4 453.2,417.6 451.4,418.6 C449.6,419.6 447.8,420.6 446.2,420.8 C444.6,420.4 443.4,419.6 442.2,418.8 C440,417.6 438.2,416.2 436.8,415 C435.8,414 435.2,412.8 435,411.5 Z" fill="#d0d0d0"/>
<ellipse cx="454.2" cy="427" rx="1.5" ry="2.8" fill="#fbfbfb"/>
<ellipse cx="402.4" cy="431.5" rx="9.7" ry="18.5" fill="url(#z2d)" stroke="#0a0a0a" stroke-width="1.6"/>
<ellipse cx="402.4" cy="431.5" rx="9.7" ry="18.5" fill="none" stroke="#fafafa" stroke-width="1.1"/>
<ellipse cx="402.3" cy="431.6" rx="6.8" ry="13.6" fill="url(#z2d)" stroke="#0a0a0a" stroke-width="1.4"/>
<ellipse cx="402.3" cy="431.6" rx="6.8" ry="13.6" fill="none" stroke="#fafafa" stroke-width="1.0"/>
<ellipse cx="402.1" cy="431.8" rx="4.6" ry="9.3" fill="url(#z2d)" stroke="#0a0a0a" stroke-width="1.4"/>
<ellipse cx="402.1" cy="431.8" rx="4.6" ry="9.3" fill="none" stroke="#fafafa" stroke-width="1.0"/>
<ellipse cx="401.9" cy="431.5" rx="2.9" ry="5.8" fill="url(#z2d)" stroke="#0a0a0a" stroke-width="1.2"/>
<ellipse cx="401.9" cy="431.5" rx="2.9" ry="5.8" fill="none" stroke="#fafafa" stroke-width="0.9"/>
<ellipse cx="401.5" cy="431.4" rx="1.2" ry="3.2" fill="#111"/>
<g fill="none" stroke="#4a4a4a" stroke-width="1">
<rect x="66.9" y="360.7" width="43.3" height="32.5"/>
<rect x="110.8" y="378.3" width="43.000000000000014" height="43.5"/>
<rect x="204.5" y="368.5" width="54.80000000000001" height="38.39999999999998"/>
<rect x="259.3" y="392.2" width="79.0" height="63.30000000000001"/>
<rect x="376.5" y="358.3" width="53.0" height="41.099999999999966"/>
<rect x="430.3" y="394.8" width="54.39999999999998" height="48.69999999999999"/>
</g>
<rect x="1" y="1" width="518" height="492" fill="none" stroke="#000" stroke-width="2"/>
</svg></body></html>
